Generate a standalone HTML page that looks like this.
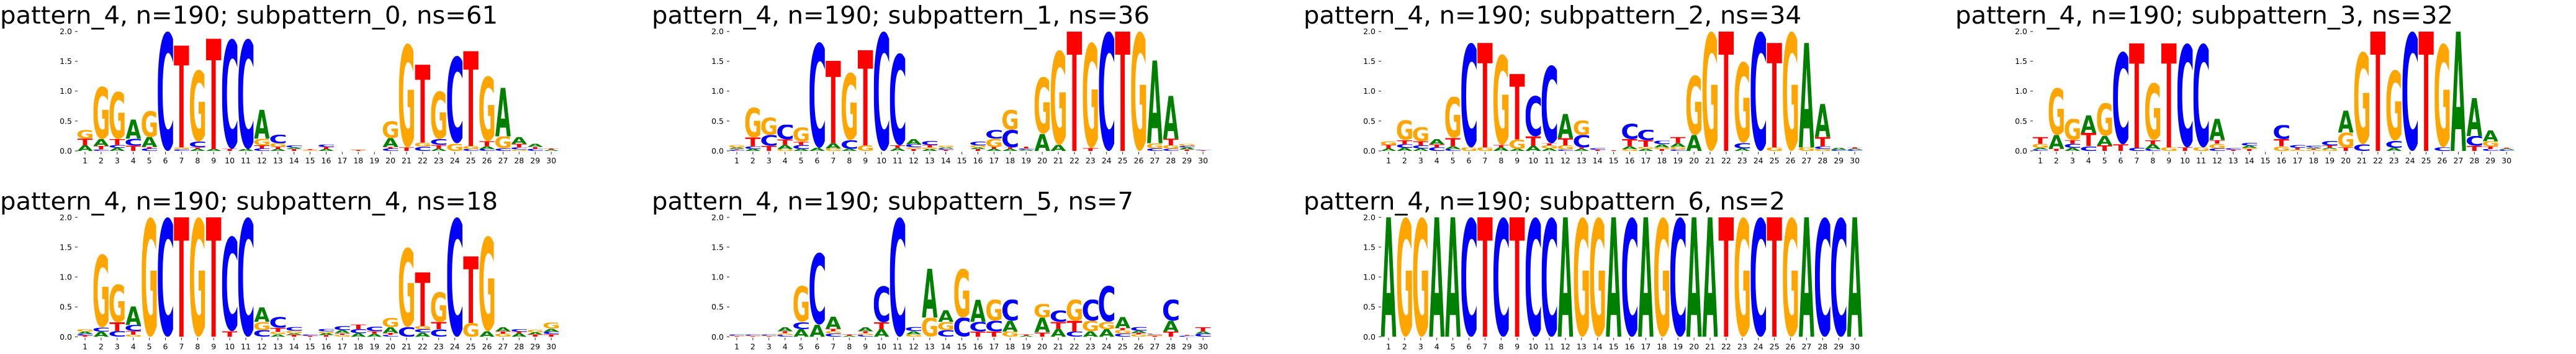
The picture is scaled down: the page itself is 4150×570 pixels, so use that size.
<!DOCTYPE html>
<html><head><meta charset="utf-8"><style>
html,body{margin:0;padding:0;background:#fff;width:4150px;height:570px;overflow:hidden}
#wrap{width:4150px;height:570px;overflow:hidden;position:relative}
svg{display:block}
.ti{font-family:"DejaVu Sans","Liberation Sans",sans-serif;font-size:39px;fill:#000}
.yl{font-family:"DejaVu Sans","Liberation Sans",sans-serif;font-size:12.5px;fill:#000;text-anchor:end}
.xl{font-family:"DejaVu Sans","Liberation Sans",sans-serif;font-size:12.5px;fill:#000;text-anchor:middle}
.L text{font-family:"DejaVu Sans","Liberation Sans",sans-serif;font-weight:bold;font-size:100px}
.a{fill:#008000}.c{fill:#0000ff}.g{fill:#ffa500}.t{fill:#ff0000}
.tk{stroke:#222;stroke-width:1;fill:none}
</style></head><body><div id="wrap">
<svg width="4150" height="570" viewBox="0 0 4150 570" xmlns="http://www.w3.org/2000/svg" overflow="hidden">
<rect width="4150" height="570" fill="#fff"/>

<!-- Panel 1 -->
<g transform="translate(0 0)">
<text class="ti" x="0" y="38" textLength="802" lengthAdjust="spacingAndGlyphs">pattern_4, n=190; subpattern_0, ns=61</text>
<text class="yl" x="116" y="247.5">0.0</text><text class="yl" x="116" y="199.4">0.5</text><text class="yl" x="116" y="151.2">1.0</text><text class="yl" x="116" y="103.1">1.5</text><text class="yl" x="116" y="55.2">2.0</text>
<path class="tk" d="M121 243h4M121 194.9h4M121 146.7h4M121 98.6h4M121 50.7h4"/>
<path class="tk" d="M137 244.5v4m25.9-4v4m25.9-4v4m25.9-4v4m25.9-4v4m25.9-4v4m25.9-4v4m25.9-4v4m25.9-4v4m25.9-4v4m25.9-4v4m25.9-4v4m25.9-4v4m25.9-4v4m25.9-4v4m25.9-4v4m25.9-4v4m25.9-4v4m25.9-4v4m25.9-4v4m25.9-4v4m25.9-4v4m25.9-4v4m25.9-4v4m25.9-4v4m25.9-4v4m25.9-4v4m25.9-4v4m25.9-4v4m25.9-4v4"/>
<text class="xl" y="263"><tspan x="137">1</tspan><tspan x="162.9">2</tspan><tspan x="188.8">3</tspan><tspan x="214.7">4</tspan><tspan x="240.6">5</tspan><tspan x="266.5">6</tspan><tspan x="292.4">7</tspan><tspan x="318.3">8</tspan><tspan x="344.2">9</tspan><tspan x="370.1">10</tspan><tspan x="396">11</tspan><tspan x="421.9">12</tspan><tspan x="447.8">13</tspan><tspan x="473.7">14</tspan><tspan x="499.6">15</tspan><tspan x="525.5">16</tspan><tspan x="551.4">17</tspan><tspan x="577.3">18</tspan><tspan x="603.2">19</tspan><tspan x="629.1">20</tspan><tspan x="655">21</tspan><tspan x="680.9">22</tspan><tspan x="706.8">23</tspan><tspan x="732.7">24</tspan><tspan x="758.6">25</tspan><tspan x="784.5">26</tspan><tspan x="810.4">27</tspan><tspan x="836.3">28</tspan><tspan x="862.2">29</tspan><tspan x="888.1">30</tspan></text>
<g class="L" transform="translate(137 243) scale(25.9 96.15)">
<svg x="-.475" y="-.094" width=".95" height=".094" viewBox="1 -72.9 75.4 72.9" preserveAspectRatio="none"><text class="a">A</text></svg>
<svg x="-.475" y="-.205" width=".95" height=".111" viewBox=".5 -72.9 67.4 72.9" preserveAspectRatio="none"><text class="t">T</text></svg>
<svg x="-.475" y="-.354" width=".95" height=".149" viewBox="5.2 -74.2 70.6 75.6" preserveAspectRatio="none"><text class="g">G</text></svg>
<svg x=".525" y="-.024" width=".95" height=".024" viewBox="5.2 -74.2 60.5 75.6" preserveAspectRatio="none"><text class="c">C</text></svg>
<svg x=".525" y="-.083" width=".95" height=".059" viewBox=".5 -72.9 67.4 72.9" preserveAspectRatio="none"><text class="t">T</text></svg>
<svg x=".525" y="-.198" width=".95" height=".115" viewBox="1 -72.9 75.4 72.9" preserveAspectRatio="none"><text class="a">A</text></svg>
<svg x=".525" y="-1.081" width=".95" height=".883" viewBox="5.2 -74.2 70.6 75.6" preserveAspectRatio="none"><text class="g">G</text></svg>
<svg x="1.525" y="-.052" width=".95" height=".052" viewBox="1 -72.9 75.4 72.9" preserveAspectRatio="none"><text class="a">A</text></svg>
<svg x="1.525" y="-.1" width=".95" height=".048" viewBox="5.2 -74.2 60.5 75.6" preserveAspectRatio="none"><text class="c">C</text></svg>
<svg x="1.525" y="-.198" width=".95" height=".098" viewBox=".5 -72.9 67.4 72.9" preserveAspectRatio="none"><text class="t">T</text></svg>
<svg x="1.525" y="-.995" width=".95" height=".797" viewBox="5.2 -74.2 70.6 75.6" preserveAspectRatio="none"><text class="g">G</text></svg>
<svg x="2.525" y="-.087" width=".95" height=".087" viewBox=".5 -72.9 67.4 72.9" preserveAspectRatio="none"><text class="t">T</text></svg>
<svg x="2.525" y="-.205" width=".95" height=".118" viewBox="5.2 -74.2 60.5 75.6" preserveAspectRatio="none"><text class="c">C</text></svg>
<svg x="2.525" y="-.527" width=".95" height=".322" viewBox="1 -72.9 75.4 72.9" preserveAspectRatio="none"><text class="a">A</text></svg>
<svg x="3.525" y="-.042" width=".95" height=".042" viewBox="5.2 -74.2 60.5 75.6" preserveAspectRatio="none"><text class="c">C</text></svg>
<svg x="3.525" y="-.066" width=".95" height=".024" viewBox=".5 -72.9 67.4 72.9" preserveAspectRatio="none"><text class="t">T</text></svg>
<svg x="3.525" y="-.232" width=".95" height=".166" viewBox="1 -72.9 75.4 72.9" preserveAspectRatio="none"><text class="a">A</text></svg>
<svg x="3.525" y="-.676" width=".95" height=".444" viewBox="5.2 -74.2 70.6 75.6" preserveAspectRatio="none"><text class="g">G</text></svg>
<svg x="4.525" y="-2" width=".95" height="2" viewBox="5.2 -74.2 60.5 75.6" preserveAspectRatio="none"><text class="c">C</text></svg>
<svg x="5.525" y="-.03" width=".95" height=".03" viewBox="5.2 -74.2 60.5 75.6" preserveAspectRatio="none"><text class="c">C</text></svg>
<svg x="5.525" y="-.059" width=".95" height=".029" viewBox="5.2 -74.2 70.6 75.6" preserveAspectRatio="none"><text class="g">G</text></svg>
<svg x="5.525" y="-1.764" width=".95" height="1.705" viewBox=".5 -72.9 67.4 72.9" preserveAspectRatio="none"><text class="t">T</text></svg>
<svg x="6.525" y="-.031" width=".95" height=".031" viewBox="1 -72.9 75.4 72.9" preserveAspectRatio="none"><text class="a">A</text></svg>
<svg x="6.525" y="-.059" width=".95" height=".028" viewBox=".5 -72.9 67.4 72.9" preserveAspectRatio="none"><text class="t">T</text></svg>
<svg x="6.525" y="-.156" width=".95" height=".097" viewBox="5.2 -74.2 60.5 75.6" preserveAspectRatio="none"><text class="c">C</text></svg>
<svg x="6.525" y="-1.359" width=".95" height="1.203" viewBox="5.2 -74.2 70.6 75.6" preserveAspectRatio="none"><text class="g">G</text></svg>
<svg x="7.525" y="-.031" width=".95" height=".031" viewBox="1 -72.9 75.4 72.9" preserveAspectRatio="none"><text class="a">A</text></svg>
<svg x="7.525" y="-1.879" width=".95" height="1.848" viewBox=".5 -72.9 67.4 72.9" preserveAspectRatio="none"><text class="t">T</text></svg>
<svg x="8.525" y="-.035" width=".95" height=".035" viewBox=".5 -72.9 67.4 72.9" preserveAspectRatio="none"><text class="t">T</text></svg>
<svg x="8.525" y="-1.879" width=".95" height="1.844" viewBox="5.2 -74.2 60.5 75.6" preserveAspectRatio="none"><text class="c">C</text></svg>
<svg x="9.525" y="-.031" width=".95" height=".031" viewBox="1 -72.9 75.4 72.9" preserveAspectRatio="none"><text class="a">A</text></svg>
<svg x="9.525" y="-1.879" width=".95" height="1.848" viewBox="5.2 -74.2 60.5 75.6" preserveAspectRatio="none"><text class="c">C</text></svg>
<svg x="10.525" y="-.042" width=".95" height=".042" viewBox="5.2 -74.2 60.5 75.6" preserveAspectRatio="none"><text class="c">C</text></svg>
<svg x="10.525" y="-.094" width=".95" height=".052" viewBox=".5 -72.9 67.4 72.9" preserveAspectRatio="none"><text class="t">T</text></svg>
<svg x="10.525" y="-.205" width=".95" height=".111" viewBox="5.2 -74.2 70.6 75.6" preserveAspectRatio="none"><text class="g">G</text></svg>
<svg x="10.525" y="-.69" width=".95" height=".485" viewBox="1 -72.9 75.4 72.9" preserveAspectRatio="none"><text class="a">A</text></svg>
<svg x="11.525" y="-.031" width=".95" height=".031" viewBox="1 -72.9 75.4 72.9" preserveAspectRatio="none"><text class="a">A</text></svg>
<svg x="11.525" y="-.069" width=".95" height=".038" viewBox=".5 -72.9 67.4 72.9" preserveAspectRatio="none"><text class="t">T</text></svg>
<svg x="11.525" y="-.128" width=".95" height=".059" viewBox="5.2 -74.2 70.6 75.6" preserveAspectRatio="none"><text class="g">G</text></svg>
<svg x="11.525" y="-.274" width=".95" height=".146" viewBox="5.2 -74.2 60.5 75.6" preserveAspectRatio="none"><text class="c">C</text></svg>
<svg x="12.525" y="-.031" width=".95" height=".031" viewBox=".5 -72.9 67.4 72.9" preserveAspectRatio="none"><text class="t">T</text></svg>
<svg x="12.525" y="-.059" width=".95" height=".028" viewBox="1 -72.9 75.4 72.9" preserveAspectRatio="none"><text class="a">A</text></svg>
<svg x="12.525" y="-.094" width=".95" height=".035" viewBox="5.2 -74.2 60.5 75.6" preserveAspectRatio="none"><text class="c">C</text></svg>
<svg x="13.525" y="-.015" width=".95" height=".015" viewBox="5.2 -74.2 70.6 75.6" preserveAspectRatio="none"><text class="g">G</text></svg>
<svg x="13.525" y="-.03" width=".95" height=".015" viewBox=".5 -72.9 67.4 72.9" preserveAspectRatio="none"><text class="t">T</text></svg>
<svg x="14.525" y="-.031" width=".95" height=".031" viewBox="1 -72.9 75.4 72.9" preserveAspectRatio="none"><text class="a">A</text></svg>
<svg x="14.525" y="-.066" width=".95" height=".035" viewBox=".5 -72.9 67.4 72.9" preserveAspectRatio="none"><text class="t">T</text></svg>
<svg x="14.525" y="-.107" width=".95" height=".041" viewBox="5.2 -74.2 60.5 75.6" preserveAspectRatio="none"><text class="c">C</text></svg>
<svg x="16.525" y="-.015" width=".95" height=".015" viewBox=".5 -72.9 67.4 72.9" preserveAspectRatio="none"><text class="t">T</text></svg>
<svg x="16.525" y="-.025" width=".95" height=".01" viewBox="5.2 -74.2 70.6 75.6" preserveAspectRatio="none"><text class="g">G</text></svg>
<svg x="18.525" y="-.042" width=".95" height=".042" viewBox="5.2 -74.2 60.5 75.6" preserveAspectRatio="none"><text class="c">C</text></svg>
<svg x="18.525" y="-.066" width=".95" height=".024" viewBox=".5 -72.9 67.4 72.9" preserveAspectRatio="none"><text class="t">T</text></svg>
<svg x="18.525" y="-.215" width=".95" height=".149" viewBox="1 -72.9 75.4 72.9" preserveAspectRatio="none"><text class="a">A</text></svg>
<svg x="18.525" y="-.503" width=".95" height=".288" viewBox="5.2 -74.2 70.6 75.6" preserveAspectRatio="none"><text class="g">G</text></svg>
<svg x="19.525" y="-.059" width=".95" height=".059" viewBox=".5 -72.9 67.4 72.9" preserveAspectRatio="none"><text class="t">T</text></svg>
<svg x="19.525" y="-1.799" width=".95" height="1.74" viewBox="5.2 -74.2 70.6 75.6" preserveAspectRatio="none"><text class="g">G</text></svg>
<svg x="20.525" y="-.069" width=".95" height=".069" viewBox="5.2 -74.2 60.5 75.6" preserveAspectRatio="none"><text class="c">C</text></svg>
<svg x="20.525" y="-.139" width=".95" height=".07" viewBox="5.2 -74.2 70.6 75.6" preserveAspectRatio="none"><text class="g">G</text></svg>
<svg x="20.525" y="-1.445" width=".95" height="1.306" viewBox=".5 -72.9 67.4 72.9" preserveAspectRatio="none"><text class="t">T</text></svg>
<svg x="21.525" y="-.038" width=".95" height=".038" viewBox="1 -72.9 75.4 72.9" preserveAspectRatio="none"><text class="a">A</text></svg>
<svg x="21.525" y="-.1" width=".95" height=".062" viewBox=".5 -72.9 67.4 72.9" preserveAspectRatio="none"><text class="t">T</text></svg>
<svg x="21.525" y="-.198" width=".95" height=".098" viewBox="5.2 -74.2 60.5 75.6" preserveAspectRatio="none"><text class="c">C</text></svg>
<svg x="21.525" y="-1.002" width=".95" height=".804" viewBox="5.2 -74.2 70.6 75.6" preserveAspectRatio="none"><text class="g">G</text></svg>
<svg x="22.525" y="-.128" width=".95" height=".128" viewBox="5.2 -74.2 70.6 75.6" preserveAspectRatio="none"><text class="g">G</text></svg>
<svg x="22.525" y="-1.591" width=".95" height="1.463" viewBox="5.2 -74.2 60.5 75.6" preserveAspectRatio="none"><text class="c">C</text></svg>
<svg x="23.525" y="-.031" width=".95" height=".031" viewBox="5.2 -74.2 60.5 75.6" preserveAspectRatio="none"><text class="c">C</text></svg>
<svg x="23.525" y="-.083" width=".95" height=".052" viewBox="5.2 -74.2 70.6 75.6" preserveAspectRatio="none"><text class="g">G</text></svg>
<svg x="23.525" y="-1.671" width=".95" height="1.588" viewBox=".5 -72.9 67.4 72.9" preserveAspectRatio="none"><text class="t">T</text></svg>
<svg x="24.525" y="-.031" width=".95" height=".031" viewBox="5.2 -74.2 60.5 75.6" preserveAspectRatio="none"><text class="c">C</text></svg>
<svg x="24.525" y="-.076" width=".95" height=".045" viewBox="1 -72.9 75.4 72.9" preserveAspectRatio="none"><text class="a">A</text></svg>
<svg x="24.525" y="-.163" width=".95" height=".087" viewBox=".5 -72.9 67.4 72.9" preserveAspectRatio="none"><text class="t">T</text></svg>
<svg x="24.525" y="-1.255" width=".95" height="1.092" viewBox="5.2 -74.2 70.6 75.6" preserveAspectRatio="none"><text class="g">G</text></svg>
<svg x="25.525" y="-.042" width=".95" height=".042" viewBox="5.2 -74.2 60.5 75.6" preserveAspectRatio="none"><text class="c">C</text></svg>
<svg x="25.525" y="-.243" width=".95" height=".201" viewBox="5.2 -74.2 70.6 75.6" preserveAspectRatio="none"><text class="g">G</text></svg>
<svg x="25.525" y="-1.057" width=".95" height=".814" viewBox="1 -72.9 75.4 72.9" preserveAspectRatio="none"><text class="a">A</text></svg>
<svg x="26.525" y="-.024" width=".95" height=".024" viewBox="5.2 -74.2 70.6 75.6" preserveAspectRatio="none"><text class="g">G</text></svg>
<svg x="26.525" y="-.059" width=".95" height=".035" viewBox="5.2 -74.2 60.5 75.6" preserveAspectRatio="none"><text class="c">C</text></svg>
<svg x="26.525" y="-.121" width=".95" height=".062" viewBox=".5 -72.9 67.4 72.9" preserveAspectRatio="none"><text class="t">T</text></svg>
<svg x="26.525" y="-.232" width=".95" height=".111" viewBox="1 -72.9 75.4 72.9" preserveAspectRatio="none"><text class="a">A</text></svg>
<svg x="27.525" y="-.035" width=".95" height=".035" viewBox="5.2 -74.2 60.5 75.6" preserveAspectRatio="none"><text class="c">C</text></svg>
<svg x="27.525" y="-.066" width=".95" height=".031" viewBox=".5 -72.9 67.4 72.9" preserveAspectRatio="none"><text class="t">T</text></svg>
<svg x="27.525" y="-.121" width=".95" height=".055" viewBox="1 -72.9 75.4 72.9" preserveAspectRatio="none"><text class="a">A</text></svg>
<svg x="28.525" y="-.02" width=".95" height=".02" viewBox="1 -72.9 75.4 72.9" preserveAspectRatio="none"><text class="a">A</text></svg>
<svg x="28.525" y="-.04" width=".95" height=".02" viewBox=".5 -72.9 67.4 72.9" preserveAspectRatio="none"><text class="t">T</text></svg>
</g>
</g>

<!-- Panel 2 -->
<g transform="translate(1050 0)">
<text class="ti" x="0" y="38" textLength="802" lengthAdjust="spacingAndGlyphs">pattern_4, n=190; subpattern_1, ns=36</text>
<text class="yl" x="116" y="247.5">0.0</text><text class="yl" x="116" y="199.4">0.5</text><text class="yl" x="116" y="151.2">1.0</text><text class="yl" x="116" y="103.1">1.5</text><text class="yl" x="116" y="55.2">2.0</text>
<path class="tk" d="M121 243h4M121 194.9h4M121 146.7h4M121 98.6h4M121 50.7h4"/>
<path class="tk" d="M137 244.5v4m25.9-4v4m25.9-4v4m25.9-4v4m25.9-4v4m25.9-4v4m25.9-4v4m25.9-4v4m25.9-4v4m25.9-4v4m25.9-4v4m25.9-4v4m25.9-4v4m25.9-4v4m25.9-4v4m25.9-4v4m25.9-4v4m25.9-4v4m25.9-4v4m25.9-4v4m25.9-4v4m25.9-4v4m25.9-4v4m25.9-4v4m25.9-4v4m25.9-4v4m25.9-4v4m25.9-4v4m25.9-4v4m25.9-4v4"/>
<text class="xl" y="263"><tspan x="137">1</tspan><tspan x="162.9">2</tspan><tspan x="188.8">3</tspan><tspan x="214.7">4</tspan><tspan x="240.6">5</tspan><tspan x="266.5">6</tspan><tspan x="292.4">7</tspan><tspan x="318.3">8</tspan><tspan x="344.2">9</tspan><tspan x="370.1">10</tspan><tspan x="396">11</tspan><tspan x="421.9">12</tspan><tspan x="447.8">13</tspan><tspan x="473.7">14</tspan><tspan x="499.6">15</tspan><tspan x="525.5">16</tspan><tspan x="551.4">17</tspan><tspan x="577.3">18</tspan><tspan x="603.2">19</tspan><tspan x="629.1">20</tspan><tspan x="655">21</tspan><tspan x="680.9">22</tspan><tspan x="706.8">23</tspan><tspan x="732.7">24</tspan><tspan x="758.6">25</tspan><tspan x="784.5">26</tspan><tspan x="810.4">27</tspan><tspan x="836.3">28</tspan><tspan x="862.2">29</tspan><tspan x="888.1">30</tspan></text>
<g class="L" transform="translate(137 243) scale(25.9 96.15)">
<svg x="-.475" y="-.02" width=".95" height=".02" viewBox="5.2 -74.2 60.5 75.6" preserveAspectRatio="none"><text class="c">C</text></svg>
<svg x="-.475" y="-.035" width=".95" height=".015" viewBox=".5 -72.9 67.4 72.9" preserveAspectRatio="none"><text class="t">T</text></svg>
<svg x="-.475" y="-.059" width=".95" height=".024" viewBox="1 -72.9 75.4 72.9" preserveAspectRatio="none"><text class="a">A</text></svg>
<svg x="-.475" y="-.1" width=".95" height=".041" viewBox="5.2 -74.2 70.6 75.6" preserveAspectRatio="none"><text class="g">G</text></svg>
<svg x=".525" y="-.031" width=".95" height=".031" viewBox="1 -72.9 75.4 72.9" preserveAspectRatio="none"><text class="a">A</text></svg>
<svg x=".525" y="-.076" width=".95" height=".045" viewBox="5.2 -74.2 60.5 75.6" preserveAspectRatio="none"><text class="c">C</text></svg>
<svg x=".525" y="-.225" width=".95" height=".149" viewBox=".5 -72.9 67.4 72.9" preserveAspectRatio="none"><text class="t">T</text></svg>
<svg x=".525" y="-.728" width=".95" height=".503" viewBox="5.2 -74.2 70.6 75.6" preserveAspectRatio="none"><text class="g">G</text></svg>
<svg x="1.525" y="-.083" width=".95" height=".083" viewBox=".5 -72.9 67.4 72.9" preserveAspectRatio="none"><text class="t">T</text></svg>
<svg x="1.525" y="-.267" width=".95" height=".184" viewBox="5.2 -74.2 60.5 75.6" preserveAspectRatio="none"><text class="c">C</text></svg>
<svg x="1.525" y="-.562" width=".95" height=".295" viewBox="5.2 -74.2 70.6 75.6" preserveAspectRatio="none"><text class="g">G</text></svg>
<svg x="2.525" y="-.031" width=".95" height=".031" viewBox="5.2 -74.2 70.6 75.6" preserveAspectRatio="none"><text class="g">G</text></svg>
<svg x="2.525" y="-.1" width=".95" height=".069" viewBox="1 -72.9 75.4 72.9" preserveAspectRatio="none"><text class="a">A</text></svg>
<svg x="2.525" y="-.191" width=".95" height=".091" viewBox=".5 -72.9 67.4 72.9" preserveAspectRatio="none"><text class="t">T</text></svg>
<svg x="2.525" y="-.44" width=".95" height=".249" viewBox="5.2 -74.2 60.5 75.6" preserveAspectRatio="none"><text class="c">C</text></svg>
<svg x="3.525" y="-.031" width=".95" height=".031" viewBox="1 -72.9 75.4 72.9" preserveAspectRatio="none"><text class="a">A</text></svg>
<svg x="3.525" y="-.1" width=".95" height=".069" viewBox="5.2 -74.2 60.5 75.6" preserveAspectRatio="none"><text class="c">C</text></svg>
<svg x="3.525" y="-.156" width=".95" height=".056" viewBox=".5 -72.9 67.4 72.9" preserveAspectRatio="none"><text class="t">T</text></svg>
<svg x="3.525" y="-.395" width=".95" height=".239" viewBox="5.2 -74.2 70.6 75.6" preserveAspectRatio="none"><text class="g">G</text></svg>
<svg x="4.525" y="-.052" width=".95" height=".052" viewBox="1 -72.9 75.4 72.9" preserveAspectRatio="none"><text class="a">A</text></svg>
<svg x="4.525" y="-1.82" width=".95" height="1.768" viewBox="5.2 -74.2 60.5 75.6" preserveAspectRatio="none"><text class="c">C</text></svg>
<svg x="5.525" y="-.042" width=".95" height=".042" viewBox="5.2 -74.2 70.6 75.6" preserveAspectRatio="none"><text class="g">G</text></svg>
<svg x="5.525" y="-.128" width=".95" height=".086" viewBox="1 -72.9 75.4 72.9" preserveAspectRatio="none"><text class="a">A</text></svg>
<svg x="5.525" y="-1.508" width=".95" height="1.38" viewBox=".5 -72.9 67.4 72.9" preserveAspectRatio="none"><text class="t">T</text></svg>
<svg x="6.525" y="-.035" width=".95" height=".035" viewBox="1 -72.9 75.4 72.9" preserveAspectRatio="none"><text class="a">A</text></svg>
<svg x="6.525" y="-.18" width=".95" height=".145" viewBox="5.2 -74.2 60.5 75.6" preserveAspectRatio="none"><text class="c">C</text></svg>
<svg x="6.525" y="-1.314" width=".95" height="1.134" viewBox="5.2 -74.2 70.6 75.6" preserveAspectRatio="none"><text class="g">G</text></svg>
<svg x="7.525" y="-.094" width=".95" height=".094" viewBox="5.2 -74.2 70.6 75.6" preserveAspectRatio="none"><text class="g">G</text></svg>
<svg x="7.525" y="-1.688" width=".95" height="1.594" viewBox=".5 -72.9 67.4 72.9" preserveAspectRatio="none"><text class="t">T</text></svg>
<svg x="8.525" y="-2" width=".95" height="2" viewBox="5.2 -74.2 60.5 75.6" preserveAspectRatio="none"><text class="c">C</text></svg>
<svg x="9.525" y="-.049" width=".95" height=".049" viewBox="1 -72.9 75.4 72.9" preserveAspectRatio="none"><text class="a">A</text></svg>
<svg x="9.525" y="-.094" width=".95" height=".045" viewBox=".5 -72.9 67.4 72.9" preserveAspectRatio="none"><text class="t">T</text></svg>
<svg x="9.525" y="-1.636" width=".95" height="1.542" viewBox="5.2 -74.2 60.5 75.6" preserveAspectRatio="none"><text class="c">C</text></svg>
<svg x="10.525" y="-.031" width=".95" height=".031" viewBox=".5 -72.9 67.4 72.9" preserveAspectRatio="none"><text class="t">T</text></svg>
<svg x="10.525" y="-.059" width=".95" height=".028" viewBox="5.2 -74.2 70.6 75.6" preserveAspectRatio="none"><text class="g">G</text></svg>
<svg x="10.525" y="-.111" width=".95" height=".052" viewBox="5.2 -74.2 60.5 75.6" preserveAspectRatio="none"><text class="c">C</text></svg>
<svg x="10.525" y="-.198" width=".95" height=".087" viewBox="1 -72.9 75.4 72.9" preserveAspectRatio="none"><text class="a">A</text></svg>
<svg x="11.525" y="-.031" width=".95" height=".031" viewBox="1 -72.9 75.4 72.9" preserveAspectRatio="none"><text class="a">A</text></svg>
<svg x="11.525" y="-.059" width=".95" height=".028" viewBox="5.2 -74.2 70.6 75.6" preserveAspectRatio="none"><text class="g">G</text></svg>
<svg x="11.525" y="-.1" width=".95" height=".041" viewBox=".5 -72.9 67.4 72.9" preserveAspectRatio="none"><text class="t">T</text></svg>
<svg x="11.525" y="-.17" width=".95" height=".07" viewBox="5.2 -74.2 60.5 75.6" preserveAspectRatio="none"><text class="c">C</text></svg>
<svg x="12.525" y="-.02" width=".95" height=".02" viewBox=".5 -72.9 67.4 72.9" preserveAspectRatio="none"><text class="t">T</text></svg>
<svg x="12.525" y="-.04" width=".95" height=".02" viewBox="5.2 -74.2 60.5 75.6" preserveAspectRatio="none"><text class="c">C</text></svg>
<svg x="12.525" y="-.06" width=".95" height=".02" viewBox="1 -72.9 75.4 72.9" preserveAspectRatio="none"><text class="a">A</text></svg>
<svg x="12.525" y="-.09" width=".95" height=".03" viewBox="5.2 -74.2 70.6 75.6" preserveAspectRatio="none"><text class="g">G</text></svg>
<svg x="14.525" y="-.031" width=".95" height=".031" viewBox=".5 -72.9 67.4 72.9" preserveAspectRatio="none"><text class="t">T</text></svg>
<svg x="14.525" y="-.059" width=".95" height=".028" viewBox="1 -72.9 75.4 72.9" preserveAspectRatio="none"><text class="a">A</text></svg>
<svg x="14.525" y="-.094" width=".95" height=".035" viewBox="5.2 -74.2 70.6 75.6" preserveAspectRatio="none"><text class="g">G</text></svg>
<svg x="14.525" y="-.156" width=".95" height=".062" viewBox="5.2 -74.2 60.5 75.6" preserveAspectRatio="none"><text class="c">C</text></svg>
<svg x="15.525" y="-.035" width=".95" height=".035" viewBox="1 -72.9 75.4 72.9" preserveAspectRatio="none"><text class="a">A</text></svg>
<svg x="15.525" y="-.066" width=".95" height=".031" viewBox=".5 -72.9 67.4 72.9" preserveAspectRatio="none"><text class="t">T</text></svg>
<svg x="15.525" y="-.205" width=".95" height=".139" viewBox="5.2 -74.2 70.6 75.6" preserveAspectRatio="none"><text class="g">G</text></svg>
<svg x="15.525" y="-.354" width=".95" height=".149" viewBox="5.2 -74.2 60.5 75.6" preserveAspectRatio="none"><text class="c">C</text></svg>
<svg x="16.525" y="-.035" width=".95" height=".035" viewBox="1 -72.9 75.4 72.9" preserveAspectRatio="none"><text class="a">A</text></svg>
<svg x="16.525" y="-.059" width=".95" height=".024" viewBox=".5 -72.9 67.4 72.9" preserveAspectRatio="none"><text class="t">T</text></svg>
<svg x="16.525" y="-.354" width=".95" height=".295" viewBox="5.2 -74.2 60.5 75.6" preserveAspectRatio="none"><text class="c">C</text></svg>
<svg x="16.525" y="-.69" width=".95" height=".336" viewBox="5.2 -74.2 70.6 75.6" preserveAspectRatio="none"><text class="g">G</text></svg>
<svg x="17.525" y="-.02" width=".95" height=".02" viewBox="1 -72.9 75.4 72.9" preserveAspectRatio="none"><text class="a">A</text></svg>
<svg x="17.525" y="-.04" width=".95" height=".02" viewBox="5.2 -74.2 60.5 75.6" preserveAspectRatio="none"><text class="c">C</text></svg>
<svg x="17.525" y="-.07" width=".95" height=".03" viewBox=".5 -72.9 67.4 72.9" preserveAspectRatio="none"><text class="t">T</text></svg>
<svg x="18.525" y="-.284" width=".95" height=".284" viewBox="1 -72.9 75.4 72.9" preserveAspectRatio="none"><text class="a">A</text></svg>
<svg x="18.525" y="-1.237" width=".95" height=".953" viewBox="5.2 -74.2 70.6 75.6" preserveAspectRatio="none"><text class="g">G</text></svg>
<svg x="19.525" y="-.1" width=".95" height=".1" viewBox="1 -72.9 75.4 72.9" preserveAspectRatio="none"><text class="a">A</text></svg>
<svg x="19.525" y="-1.688" width=".95" height="1.588" viewBox="5.2 -74.2 70.6 75.6" preserveAspectRatio="none"><text class="g">G</text></svg>
<svg x="20.525" y="-2" width=".95" height="2" viewBox=".5 -72.9 67.4 72.9" preserveAspectRatio="none"><text class="t">T</text></svg>
<svg x="21.525" y="-.049" width=".95" height=".049" viewBox=".5 -72.9 67.4 72.9" preserveAspectRatio="none"><text class="t">T</text></svg>
<svg x="21.525" y="-1.82" width=".95" height="1.771" viewBox="5.2 -74.2 70.6 75.6" preserveAspectRatio="none"><text class="g">G</text></svg>
<svg x="22.525" y="-2" width=".95" height="2" viewBox="5.2 -74.2 60.5 75.6" preserveAspectRatio="none"><text class="c">C</text></svg>
<svg x="23.525" y="-2" width=".95" height="2" viewBox=".5 -72.9 67.4 72.9" preserveAspectRatio="none"><text class="t">T</text></svg>
<svg x="24.525" y="-2" width=".95" height="2" viewBox="5.2 -74.2 70.6 75.6" preserveAspectRatio="none"><text class="g">G</text></svg>
<svg x="25.525" y="-.042" width=".95" height=".042" viewBox="5.2 -74.2 60.5 75.6" preserveAspectRatio="none"><text class="c">C</text></svg>
<svg x="25.525" y="-.128" width=".95" height=".086" viewBox="5.2 -74.2 70.6 75.6" preserveAspectRatio="none"><text class="g">G</text></svg>
<svg x="25.525" y="-1.515" width=".95" height="1.387" viewBox="1 -72.9 75.4 72.9" preserveAspectRatio="none"><text class="a">A</text></svg>
<svg x="26.525" y="-.035" width=".95" height=".035" viewBox="5.2 -74.2 60.5 75.6" preserveAspectRatio="none"><text class="c">C</text></svg>
<svg x="26.525" y="-.094" width=".95" height=".059" viewBox="5.2 -74.2 70.6 75.6" preserveAspectRatio="none"><text class="g">G</text></svg>
<svg x="26.525" y="-.205" width=".95" height=".111" viewBox=".5 -72.9 67.4 72.9" preserveAspectRatio="none"><text class="t">T</text></svg>
<svg x="26.525" y="-.925" width=".95" height=".72" viewBox="1 -72.9 75.4 72.9" preserveAspectRatio="none"><text class="a">A</text></svg>
<svg x="27.525" y="-.024" width=".95" height=".024" viewBox=".5 -72.9 67.4 72.9" preserveAspectRatio="none"><text class="t">T</text></svg>
<svg x="27.525" y="-.059" width=".95" height=".035" viewBox="1 -72.9 75.4 72.9" preserveAspectRatio="none"><text class="a">A</text></svg>
<svg x="27.525" y="-.083" width=".95" height=".024" viewBox="5.2 -74.2 60.5 75.6" preserveAspectRatio="none"><text class="c">C</text></svg>
<svg x="27.525" y="-.118" width=".95" height=".035" viewBox="5.2 -74.2 70.6 75.6" preserveAspectRatio="none"><text class="g">G</text></svg>
<svg x="28.525" y="-.01" width=".95" height=".01" viewBox=".5 -72.9 67.4 72.9" preserveAspectRatio="none"><text class="t">T</text></svg>
<svg x="28.525" y="-.02" width=".95" height=".01" viewBox="5.2 -74.2 60.5 75.6" preserveAspectRatio="none"><text class="c">C</text></svg>
</g>
</g>

<!-- Panel 3 -->
<g transform="translate(2100 0)">
<text class="ti" x="0" y="38" textLength="802" lengthAdjust="spacingAndGlyphs">pattern_4, n=190; subpattern_2, ns=34</text>
<text class="yl" x="116" y="247.5">0.0</text><text class="yl" x="116" y="199.4">0.5</text><text class="yl" x="116" y="151.2">1.0</text><text class="yl" x="116" y="103.1">1.5</text><text class="yl" x="116" y="55.2">2.0</text>
<path class="tk" d="M121 243h4M121 194.9h4M121 146.7h4M121 98.6h4M121 50.7h4"/>
<path class="tk" d="M137 244.5v4m25.9-4v4m25.9-4v4m25.9-4v4m25.9-4v4m25.9-4v4m25.9-4v4m25.9-4v4m25.9-4v4m25.9-4v4m25.9-4v4m25.9-4v4m25.9-4v4m25.9-4v4m25.9-4v4m25.9-4v4m25.9-4v4m25.9-4v4m25.9-4v4m25.9-4v4m25.9-4v4m25.9-4v4m25.9-4v4m25.9-4v4m25.9-4v4m25.9-4v4m25.9-4v4m25.9-4v4m25.9-4v4m25.9-4v4"/>
<text class="xl" y="263"><tspan x="137">1</tspan><tspan x="162.9">2</tspan><tspan x="188.8">3</tspan><tspan x="214.7">4</tspan><tspan x="240.6">5</tspan><tspan x="266.5">6</tspan><tspan x="292.4">7</tspan><tspan x="318.3">8</tspan><tspan x="344.2">9</tspan><tspan x="370.1">10</tspan><tspan x="396">11</tspan><tspan x="421.9">12</tspan><tspan x="447.8">13</tspan><tspan x="473.7">14</tspan><tspan x="499.6">15</tspan><tspan x="525.5">16</tspan><tspan x="551.4">17</tspan><tspan x="577.3">18</tspan><tspan x="603.2">19</tspan><tspan x="629.1">20</tspan><tspan x="655">21</tspan><tspan x="680.9">22</tspan><tspan x="706.8">23</tspan><tspan x="732.7">24</tspan><tspan x="758.6">25</tspan><tspan x="784.5">26</tspan><tspan x="810.4">27</tspan><tspan x="836.3">28</tspan><tspan x="862.2">29</tspan><tspan x="888.1">30</tspan></text>
<g class="L" transform="translate(137 243) scale(25.9 96.15)">
<svg x="-.475" y="-.042" width=".95" height=".042" viewBox="1 -72.9 75.4 72.9" preserveAspectRatio="none"><text class="a">A</text></svg>
<svg x="-.475" y="-.1" width=".95" height=".058" viewBox=".5 -72.9 67.4 72.9" preserveAspectRatio="none"><text class="t">T</text></svg>
<svg x="-.475" y="-.163" width=".95" height=".063" viewBox="5.2 -74.2 70.6 75.6" preserveAspectRatio="none"><text class="g">G</text></svg>
<svg x=".525" y="-.052" width=".95" height=".052" viewBox="1 -72.9 75.4 72.9" preserveAspectRatio="none"><text class="a">A</text></svg>
<svg x=".525" y="-.111" width=".95" height=".059" viewBox="5.2 -74.2 60.5 75.6" preserveAspectRatio="none"><text class="c">C</text></svg>
<svg x=".525" y="-.18" width=".95" height=".069" viewBox=".5 -72.9 67.4 72.9" preserveAspectRatio="none"><text class="t">T</text></svg>
<svg x=".525" y="-.516" width=".95" height=".336" viewBox="5.2 -74.2 70.6 75.6" preserveAspectRatio="none"><text class="g">G</text></svg>
<svg x="1.525" y="-.042" width=".95" height=".042" viewBox="1 -72.9 75.4 72.9" preserveAspectRatio="none"><text class="a">A</text></svg>
<svg x="1.525" y="-.094" width=".95" height=".052" viewBox="5.2 -74.2 60.5 75.6" preserveAspectRatio="none"><text class="c">C</text></svg>
<svg x="1.525" y="-.163" width=".95" height=".069" viewBox=".5 -72.9 67.4 72.9" preserveAspectRatio="none"><text class="t">T</text></svg>
<svg x="1.525" y="-.399" width=".95" height=".236" viewBox="5.2 -74.2 70.6 75.6" preserveAspectRatio="none"><text class="g">G</text></svg>
<svg x="2.525" y="-.059" width=".95" height=".059" viewBox="5.2 -74.2 60.5 75.6" preserveAspectRatio="none"><text class="c">C</text></svg>
<svg x="2.525" y="-.111" width=".95" height=".052" viewBox=".5 -72.9 67.4 72.9" preserveAspectRatio="none"><text class="t">T</text></svg>
<svg x="2.525" y="-.198" width=".95" height=".087" viewBox="1 -72.9 75.4 72.9" preserveAspectRatio="none"><text class="a">A</text></svg>
<svg x="3.525" y="-.031" width=".95" height=".031" viewBox="5.2 -74.2 60.5 75.6" preserveAspectRatio="none"><text class="c">C</text></svg>
<svg x="3.525" y="-.076" width=".95" height=".045" viewBox="1 -72.9 75.4 72.9" preserveAspectRatio="none"><text class="a">A</text></svg>
<svg x="3.525" y="-.215" width=".95" height=".139" viewBox=".5 -72.9 67.4 72.9" preserveAspectRatio="none"><text class="t">T</text></svg>
<svg x="3.525" y="-.908" width=".95" height=".693" viewBox="5.2 -74.2 70.6 75.6" preserveAspectRatio="none"><text class="g">G</text></svg>
<svg x="4.525" y="-.059" width=".95" height=".059" viewBox="5.2 -74.2 70.6 75.6" preserveAspectRatio="none"><text class="g">G</text></svg>
<svg x="4.525" y="-1.809" width=".95" height="1.75" viewBox="5.2 -74.2 60.5 75.6" preserveAspectRatio="none"><text class="c">C</text></svg>
<svg x="5.525" y="-.059" width=".95" height=".059" viewBox="5.2 -74.2 70.6 75.6" preserveAspectRatio="none"><text class="g">G</text></svg>
<svg x="5.525" y="-1.809" width=".95" height="1.75" viewBox=".5 -72.9 67.4 72.9" preserveAspectRatio="none"><text class="t">T</text></svg>
<svg x="6.525" y="-.059" width=".95" height=".059" viewBox="1 -72.9 75.4 72.9" preserveAspectRatio="none"><text class="a">A</text></svg>
<svg x="6.525" y="-.1" width=".95" height=".041" viewBox=".5 -72.9 67.4 72.9" preserveAspectRatio="none"><text class="t">T</text></svg>
<svg x="6.525" y="-1.619" width=".95" height="1.519" viewBox="5.2 -74.2 70.6 75.6" preserveAspectRatio="none"><text class="g">G</text></svg>
<svg x="7.525" y="-.035" width=".95" height=".035" viewBox="1 -72.9 75.4 72.9" preserveAspectRatio="none"><text class="a">A</text></svg>
<svg x="7.525" y="-.191" width=".95" height=".156" viewBox="5.2 -74.2 70.6 75.6" preserveAspectRatio="none"><text class="g">G</text></svg>
<svg x="7.525" y="-1.289" width=".95" height="1.098" viewBox=".5 -72.9 67.4 72.9" preserveAspectRatio="none"><text class="t">T</text></svg>
<svg x="8.525" y="-.083" width=".95" height=".083" viewBox="1 -72.9 75.4 72.9" preserveAspectRatio="none"><text class="a">A</text></svg>
<svg x="8.525" y="-.243" width=".95" height=".16" viewBox=".5 -72.9 67.4 72.9" preserveAspectRatio="none"><text class="t">T</text></svg>
<svg x="8.525" y="-.925" width=".95" height=".682" viewBox="5.2 -74.2 60.5 75.6" preserveAspectRatio="none"><text class="c">C</text></svg>
<svg x="9.525" y="-.042" width=".95" height=".042" viewBox="1 -72.9 75.4 72.9" preserveAspectRatio="none"><text class="a">A</text></svg>
<svg x="9.525" y="-.094" width=".95" height=".052" viewBox="5.2 -74.2 70.6 75.6" preserveAspectRatio="none"><text class="g">G</text></svg>
<svg x="9.525" y="-.128" width=".95" height=".034" viewBox=".5 -72.9 67.4 72.9" preserveAspectRatio="none"><text class="t">T</text></svg>
<svg x="9.525" y="-1.435" width=".95" height="1.307" viewBox="5.2 -74.2 60.5 75.6" preserveAspectRatio="none"><text class="c">C</text></svg>
<svg x="10.525" y="-.024" width=".95" height=".024" viewBox="5.2 -74.2 60.5 75.6" preserveAspectRatio="none"><text class="c">C</text></svg>
<svg x="10.525" y="-.094" width=".95" height=".07" viewBox="5.2 -74.2 70.6 75.6" preserveAspectRatio="none"><text class="g">G</text></svg>
<svg x="10.525" y="-.215" width=".95" height=".121" viewBox=".5 -72.9 67.4 72.9" preserveAspectRatio="none"><text class="t">T</text></svg>
<svg x="10.525" y="-.62" width=".95" height=".405" viewBox="1 -72.9 75.4 72.9" preserveAspectRatio="none"><text class="a">A</text></svg>
<svg x="11.525" y="-.035" width=".95" height=".035" viewBox="1 -72.9 75.4 72.9" preserveAspectRatio="none"><text class="a">A</text></svg>
<svg x="11.525" y="-.059" width=".95" height=".024" viewBox=".5 -72.9 67.4 72.9" preserveAspectRatio="none"><text class="t">T</text></svg>
<svg x="11.525" y="-.267" width=".95" height=".208" viewBox="5.2 -74.2 60.5 75.6" preserveAspectRatio="none"><text class="c">C</text></svg>
<svg x="11.525" y="-.51" width=".95" height=".243" viewBox="5.2 -74.2 70.6 75.6" preserveAspectRatio="none"><text class="g">G</text></svg>
<svg x="12.525" y="-.02" width=".95" height=".02" viewBox=".5 -72.9 67.4 72.9" preserveAspectRatio="none"><text class="t">T</text></svg>
<svg x="12.525" y="-.05" width=".95" height=".03" viewBox="5.2 -74.2 60.5 75.6" preserveAspectRatio="none"><text class="c">C</text></svg>
<svg x="13.525" y="-.01" width=".95" height=".01" viewBox=".5 -72.9 67.4 72.9" preserveAspectRatio="none"><text class="t">T</text></svg>
<svg x="14.525" y="-.031" width=".95" height=".031" viewBox="5.2 -74.2 70.6 75.6" preserveAspectRatio="none"><text class="g">G</text></svg>
<svg x="14.525" y="-.076" width=".95" height=".045" viewBox="1 -72.9 75.4 72.9" preserveAspectRatio="none"><text class="a">A</text></svg>
<svg x="14.525" y="-.198" width=".95" height=".122" viewBox=".5 -72.9 67.4 72.9" preserveAspectRatio="none"><text class="t">T</text></svg>
<svg x="14.525" y="-.458" width=".95" height=".26" viewBox="5.2 -74.2 60.5 75.6" preserveAspectRatio="none"><text class="c">C</text></svg>
<svg x="15.525" y="-.035" width=".95" height=".035" viewBox="1 -72.9 75.4 72.9" preserveAspectRatio="none"><text class="a">A</text></svg>
<svg x="15.525" y="-.066" width=".95" height=".031" viewBox="5.2 -74.2 70.6 75.6" preserveAspectRatio="none"><text class="g">G</text></svg>
<svg x="15.525" y="-.18" width=".95" height=".114" viewBox=".5 -72.9 67.4 72.9" preserveAspectRatio="none"><text class="t">T</text></svg>
<svg x="15.525" y="-.354" width=".95" height=".174" viewBox="5.2 -74.2 60.5 75.6" preserveAspectRatio="none"><text class="c">C</text></svg>
<svg x="16.525" y="-.031" width=".95" height=".031" viewBox=".5 -72.9 67.4 72.9" preserveAspectRatio="none"><text class="t">T</text></svg>
<svg x="16.525" y="-.059" width=".95" height=".028" viewBox="5.2 -74.2 70.6 75.6" preserveAspectRatio="none"><text class="g">G</text></svg>
<svg x="16.525" y="-.111" width=".95" height=".052" viewBox="1 -72.9 75.4 72.9" preserveAspectRatio="none"><text class="a">A</text></svg>
<svg x="16.525" y="-.17" width=".95" height=".059" viewBox="5.2 -74.2 60.5 75.6" preserveAspectRatio="none"><text class="c">C</text></svg>
<svg x="17.525" y="-.024" width=".95" height=".024" viewBox="5.2 -74.2 60.5 75.6" preserveAspectRatio="none"><text class="c">C</text></svg>
<svg x="17.525" y="-.066" width=".95" height=".042" viewBox="5.2 -74.2 70.6 75.6" preserveAspectRatio="none"><text class="g">G</text></svg>
<svg x="17.525" y="-.128" width=".95" height=".062" viewBox="1 -72.9 75.4 72.9" preserveAspectRatio="none"><text class="a">A</text></svg>
<svg x="17.525" y="-.232" width=".95" height=".104" viewBox=".5 -72.9 67.4 72.9" preserveAspectRatio="none"><text class="t">T</text></svg>
<svg x="18.525" y="-.267" width=".95" height=".267" viewBox="1 -72.9 75.4 72.9" preserveAspectRatio="none"><text class="a">A</text></svg>
<svg x="18.525" y="-1.272" width=".95" height="1.005" viewBox="5.2 -74.2 70.6 75.6" preserveAspectRatio="none"><text class="g">G</text></svg>
<svg x="19.525" y="-2" width=".95" height="2" viewBox="5.2 -74.2 70.6 75.6" preserveAspectRatio="none"><text class="g">G</text></svg>
<svg x="20.525" y="-2" width=".95" height="2" viewBox=".5 -72.9 67.4 72.9" preserveAspectRatio="none"><text class="t">T</text></svg>
<svg x="21.525" y="-.042" width=".95" height=".042" viewBox="1 -72.9 75.4 72.9" preserveAspectRatio="none"><text class="a">A</text></svg>
<svg x="21.525" y="-.135" width=".95" height=".093" viewBox="5.2 -74.2 60.5 75.6" preserveAspectRatio="none"><text class="c">C</text></svg>
<svg x="21.525" y="-1.497" width=".95" height="1.362" viewBox="5.2 -74.2 70.6 75.6" preserveAspectRatio="none"><text class="g">G</text></svg>
<svg x="22.525" y="-2" width=".95" height="2" viewBox="5.2 -74.2 60.5 75.6" preserveAspectRatio="none"><text class="c">C</text></svg>
<svg x="23.525" y="-.059" width=".95" height=".059" viewBox="5.2 -74.2 70.6 75.6" preserveAspectRatio="none"><text class="g">G</text></svg>
<svg x="23.525" y="-1.809" width=".95" height="1.75" viewBox=".5 -72.9 67.4 72.9" preserveAspectRatio="none"><text class="t">T</text></svg>
<svg x="24.525" y="-2" width=".95" height="2" viewBox="5.2 -74.2 70.6 75.6" preserveAspectRatio="none"><text class="g">G</text></svg>
<svg x="25.525" y="-.059" width=".95" height=".059" viewBox="5.2 -74.2 70.6 75.6" preserveAspectRatio="none"><text class="g">G</text></svg>
<svg x="25.525" y="-1.809" width=".95" height="1.75" viewBox="1 -72.9 75.4 72.9" preserveAspectRatio="none"><text class="a">A</text></svg>
<svg x="26.525" y="-.031" width=".95" height=".031" viewBox="5.2 -74.2 70.6 75.6" preserveAspectRatio="none"><text class="g">G</text></svg>
<svg x="26.525" y="-.076" width=".95" height=".045" viewBox="5.2 -74.2 60.5 75.6" preserveAspectRatio="none"><text class="c">C</text></svg>
<svg x="26.525" y="-.232" width=".95" height=".156" viewBox=".5 -72.9 67.4 72.9" preserveAspectRatio="none"><text class="t">T</text></svg>
<svg x="26.525" y="-.787" width=".95" height=".555" viewBox="1 -72.9 75.4 72.9" preserveAspectRatio="none"><text class="a">A</text></svg>
<svg x="27.525" y="-.02" width=".95" height=".02" viewBox="5.2 -74.2 60.5 75.6" preserveAspectRatio="none"><text class="c">C</text></svg>
<svg x="27.525" y="-.05" width=".95" height=".03" viewBox="1 -72.9 75.4 72.9" preserveAspectRatio="none"><text class="a">A</text></svg>
<svg x="28.525" y="-.02" width=".95" height=".02" viewBox="5.2 -74.2 60.5 75.6" preserveAspectRatio="none"><text class="c">C</text></svg>
<svg x="28.525" y="-.04" width=".95" height=".02" viewBox="1 -72.9 75.4 72.9" preserveAspectRatio="none"><text class="a">A</text></svg>
<svg x="28.525" y="-.06" width=".95" height=".02" viewBox=".5 -72.9 67.4 72.9" preserveAspectRatio="none"><text class="t">T</text></svg>
</g>
</g>

<!-- Panel 4 -->
<g transform="translate(3150 0)">
<text class="ti" x="0" y="38" textLength="802" lengthAdjust="spacingAndGlyphs">pattern_4, n=190; subpattern_3, ns=32</text>
<text class="yl" x="116" y="247.5">0.0</text><text class="yl" x="116" y="199.4">0.5</text><text class="yl" x="116" y="151.2">1.0</text><text class="yl" x="116" y="103.1">1.5</text><text class="yl" x="116" y="55.2">2.0</text>
<path class="tk" d="M121 243h4M121 194.9h4M121 146.7h4M121 98.6h4M121 50.7h4"/>
<path class="tk" d="M137 244.5v4m25.9-4v4m25.9-4v4m25.9-4v4m25.9-4v4m25.9-4v4m25.9-4v4m25.9-4v4m25.9-4v4m25.9-4v4m25.9-4v4m25.9-4v4m25.9-4v4m25.9-4v4m25.9-4v4m25.9-4v4m25.9-4v4m25.9-4v4m25.9-4v4m25.9-4v4m25.9-4v4m25.9-4v4m25.9-4v4m25.9-4v4m25.9-4v4m25.9-4v4m25.9-4v4m25.9-4v4m25.9-4v4m25.9-4v4"/>
<text class="xl" y="263"><tspan x="137">1</tspan><tspan x="162.9">2</tspan><tspan x="188.8">3</tspan><tspan x="214.7">4</tspan><tspan x="240.6">5</tspan><tspan x="266.5">6</tspan><tspan x="292.4">7</tspan><tspan x="318.3">8</tspan><tspan x="344.2">9</tspan><tspan x="370.1">10</tspan><tspan x="396">11</tspan><tspan x="421.9">12</tspan><tspan x="447.8">13</tspan><tspan x="473.7">14</tspan><tspan x="499.6">15</tspan><tspan x="525.5">16</tspan><tspan x="551.4">17</tspan><tspan x="577.3">18</tspan><tspan x="603.2">19</tspan><tspan x="629.1">20</tspan><tspan x="655">21</tspan><tspan x="680.9">22</tspan><tspan x="706.8">23</tspan><tspan x="732.7">24</tspan><tspan x="758.6">25</tspan><tspan x="784.5">26</tspan><tspan x="810.4">27</tspan><tspan x="836.3">28</tspan><tspan x="862.2">29</tspan><tspan x="888.1">30</tspan></text>
<g class="L" transform="translate(137 243) scale(25.9 96.15)">
<svg x="-.475" y="-.024" width=".95" height=".024" viewBox="5.2 -74.2 60.5 75.6" preserveAspectRatio="none"><text class="c">C</text></svg>
<svg x="-.475" y="-.052" width=".95" height=".028" viewBox="1 -72.9 75.4 72.9" preserveAspectRatio="none"><text class="a">A</text></svg>
<svg x="-.475" y="-.118" width=".95" height=".066" viewBox="5.2 -74.2 70.6 75.6" preserveAspectRatio="none"><text class="g">G</text></svg>
<svg x="-.475" y="-.232" width=".95" height=".114" viewBox=".5 -72.9 67.4 72.9" preserveAspectRatio="none"><text class="t">T</text></svg>
<svg x=".525" y="-.035" width=".95" height=".035" viewBox=".5 -72.9 67.4 72.9" preserveAspectRatio="none"><text class="t">T</text></svg>
<svg x=".525" y="-.267" width=".95" height=".232" viewBox="1 -72.9 75.4 72.9" preserveAspectRatio="none"><text class="a">A</text></svg>
<svg x=".525" y="-1.057" width=".95" height=".79" viewBox="5.2 -74.2 70.6 75.6" preserveAspectRatio="none"><text class="g">G</text></svg>
<svg x="1.525" y="-.052" width=".95" height=".052" viewBox="1 -72.9 75.4 72.9" preserveAspectRatio="none"><text class="a">A</text></svg>
<svg x="1.525" y="-.118" width=".95" height=".066" viewBox="5.2 -74.2 60.5 75.6" preserveAspectRatio="none"><text class="c">C</text></svg>
<svg x="1.525" y="-.18" width=".95" height=".062" viewBox=".5 -72.9 67.4 72.9" preserveAspectRatio="none"><text class="t">T</text></svg>
<svg x="1.525" y="-.537" width=".95" height=".357" viewBox="5.2 -74.2 70.6 75.6" preserveAspectRatio="none"><text class="g">G</text></svg>
<svg x="2.525" y="-.076" width=".95" height=".076" viewBox="5.2 -74.2 60.5 75.6" preserveAspectRatio="none"><text class="c">C</text></svg>
<svg x="2.525" y="-.302" width=".95" height=".226" viewBox=".5 -72.9 67.4 72.9" preserveAspectRatio="none"><text class="t">T</text></svg>
<svg x="2.525" y="-.596" width=".95" height=".294" viewBox="1 -72.9 75.4 72.9" preserveAspectRatio="none"><text class="a">A</text></svg>
<svg x="3.525" y="-.094" width=".95" height=".094" viewBox=".5 -72.9 67.4 72.9" preserveAspectRatio="none"><text class="t">T</text></svg>
<svg x="3.525" y="-.25" width=".95" height=".156" viewBox="1 -72.9 75.4 72.9" preserveAspectRatio="none"><text class="a">A</text></svg>
<svg x="3.525" y="-.804" width=".95" height=".554" viewBox="5.2 -74.2 70.6 75.6" preserveAspectRatio="none"><text class="g">G</text></svg>
<svg x="4.525" y="-.111" width=".95" height=".111" viewBox=".5 -72.9 67.4 72.9" preserveAspectRatio="none"><text class="t">T</text></svg>
<svg x="4.525" y="-1.664" width=".95" height="1.553" viewBox="5.2 -74.2 60.5 75.6" preserveAspectRatio="none"><text class="c">C</text></svg>
<svg x="5.525" y="-.052" width=".95" height=".052" viewBox="5.2 -74.2 60.5 75.6" preserveAspectRatio="none"><text class="c">C</text></svg>
<svg x="5.525" y="-1.802" width=".95" height="1.75" viewBox=".5 -72.9 67.4 72.9" preserveAspectRatio="none"><text class="t">T</text></svg>
<svg x="6.525" y="-.031" width=".95" height=".031" viewBox="5.2 -74.2 60.5 75.6" preserveAspectRatio="none"><text class="c">C</text></svg>
<svg x="6.525" y="-.111" width=".95" height=".08" viewBox="1 -72.9 75.4 72.9" preserveAspectRatio="none"><text class="a">A</text></svg>
<svg x="6.525" y="-.18" width=".95" height=".069" viewBox=".5 -72.9 67.4 72.9" preserveAspectRatio="none"><text class="t">T</text></svg>
<svg x="6.525" y="-1.14" width=".95" height=".96" viewBox="5.2 -74.2 70.6 75.6" preserveAspectRatio="none"><text class="g">G</text></svg>
<svg x="7.525" y="-.059" width=".95" height=".059" viewBox="5.2 -74.2 70.6 75.6" preserveAspectRatio="none"><text class="g">G</text></svg>
<svg x="7.525" y="-1.802" width=".95" height="1.743" viewBox=".5 -72.9 67.4 72.9" preserveAspectRatio="none"><text class="t">T</text></svg>
<svg x="8.525" y="-.059" width=".95" height=".059" viewBox=".5 -72.9 67.4 72.9" preserveAspectRatio="none"><text class="t">T</text></svg>
<svg x="8.525" y="-1.802" width=".95" height="1.743" viewBox="5.2 -74.2 60.5 75.6" preserveAspectRatio="none"><text class="c">C</text></svg>
<svg x="9.525" y="-.059" width=".95" height=".059" viewBox="5.2 -74.2 70.6 75.6" preserveAspectRatio="none"><text class="g">G</text></svg>
<svg x="9.525" y="-1.802" width=".95" height="1.743" viewBox="5.2 -74.2 60.5 75.6" preserveAspectRatio="none"><text class="c">C</text></svg>
<svg x="10.525" y="-.042" width=".95" height=".042" viewBox="5.2 -74.2 60.5 75.6" preserveAspectRatio="none"><text class="c">C</text></svg>
<svg x="10.525" y="-.121" width=".95" height=".079" viewBox="5.2 -74.2 70.6 75.6" preserveAspectRatio="none"><text class="g">G</text></svg>
<svg x="10.525" y="-.18" width=".95" height=".059" viewBox=".5 -72.9 67.4 72.9" preserveAspectRatio="none"><text class="t">T</text></svg>
<svg x="10.525" y="-.537" width=".95" height=".357" viewBox="1 -72.9 75.4 72.9" preserveAspectRatio="none"><text class="a">A</text></svg>
<svg x="11.525" y="-.02" width=".95" height=".02" viewBox=".5 -72.9 67.4 72.9" preserveAspectRatio="none"><text class="t">T</text></svg>
<svg x="11.525" y="-.05" width=".95" height=".03" viewBox="5.2 -74.2 60.5 75.6" preserveAspectRatio="none"><text class="c">C</text></svg>
<svg x="12.525" y="-.031" width=".95" height=".031" viewBox=".5 -72.9 67.4 72.9" preserveAspectRatio="none"><text class="t">T</text></svg>
<svg x="12.525" y="-.052" width=".95" height=".021" viewBox="5.2 -74.2 70.6 75.6" preserveAspectRatio="none"><text class="g">G</text></svg>
<svg x="12.525" y="-.087" width=".95" height=".035" viewBox="1 -72.9 75.4 72.9" preserveAspectRatio="none"><text class="a">A</text></svg>
<svg x="12.525" y="-.135" width=".95" height=".048" viewBox="5.2 -74.2 60.5 75.6" preserveAspectRatio="none"><text class="c">C</text></svg>
<svg x="14.525" y="-.076" width=".95" height=".076" viewBox="5.2 -74.2 70.6 75.6" preserveAspectRatio="none"><text class="g">G</text></svg>
<svg x="14.525" y="-.198" width=".95" height=".122" viewBox=".5 -72.9 67.4 72.9" preserveAspectRatio="none"><text class="t">T</text></svg>
<svg x="14.525" y="-.433" width=".95" height=".235" viewBox="5.2 -74.2 60.5 75.6" preserveAspectRatio="none"><text class="c">C</text></svg>
<svg x="15.525" y="-.02" width=".95" height=".02" viewBox="5.2 -74.2 70.6 75.6" preserveAspectRatio="none"><text class="g">G</text></svg>
<svg x="15.525" y="-.05" width=".95" height=".03" viewBox=".5 -72.9 67.4 72.9" preserveAspectRatio="none"><text class="t">T</text></svg>
<svg x="15.525" y="-.1" width=".95" height=".05" viewBox="5.2 -74.2 60.5 75.6" preserveAspectRatio="none"><text class="c">C</text></svg>
<svg x="16.525" y="-.02" width=".95" height=".02" viewBox="5.2 -74.2 70.6 75.6" preserveAspectRatio="none"><text class="g">G</text></svg>
<svg x="16.525" y="-.04" width=".95" height=".02" viewBox=".5 -72.9 67.4 72.9" preserveAspectRatio="none"><text class="t">T</text></svg>
<svg x="16.525" y="-.06" width=".95" height=".02" viewBox="1 -72.9 75.4 72.9" preserveAspectRatio="none"><text class="a">A</text></svg>
<svg x="16.525" y="-.09" width=".95" height=".03" viewBox="5.2 -74.2 60.5 75.6" preserveAspectRatio="none"><text class="c">C</text></svg>
<svg x="17.525" y="-.031" width=".95" height=".031" viewBox="5.2 -74.2 70.6 75.6" preserveAspectRatio="none"><text class="g">G</text></svg>
<svg x="17.525" y="-.052" width=".95" height=".021" viewBox="1 -72.9 75.4 72.9" preserveAspectRatio="none"><text class="a">A</text></svg>
<svg x="17.525" y="-.094" width=".95" height=".042" viewBox=".5 -72.9 67.4 72.9" preserveAspectRatio="none"><text class="t">T</text></svg>
<svg x="17.525" y="-.173" width=".95" height=".079" viewBox="5.2 -74.2 60.5 75.6" preserveAspectRatio="none"><text class="c">C</text></svg>
<svg x="18.525" y="-.059" width=".95" height=".059" viewBox=".5 -72.9 67.4 72.9" preserveAspectRatio="none"><text class="t">T</text></svg>
<svg x="18.525" y="-.308" width=".95" height=".249" viewBox="5.2 -74.2 70.6 75.6" preserveAspectRatio="none"><text class="g">G</text></svg>
<svg x="18.525" y="-.676" width=".95" height=".368" viewBox="1 -72.9 75.4 72.9" preserveAspectRatio="none"><text class="a">A</text></svg>
<svg x="19.525" y="-.111" width=".95" height=".111" viewBox="5.2 -74.2 60.5 75.6" preserveAspectRatio="none"><text class="c">C</text></svg>
<svg x="19.525" y="-1.664" width=".95" height="1.553" viewBox="5.2 -74.2 70.6 75.6" preserveAspectRatio="none"><text class="g">G</text></svg>
<svg x="20.525" y="-2" width=".95" height="2" viewBox=".5 -72.9 67.4 72.9" preserveAspectRatio="none"><text class="t">T</text></svg>
<svg x="21.525" y="-.052" width=".95" height=".052" viewBox="1 -72.9 75.4 72.9" preserveAspectRatio="none"><text class="a">A</text></svg>
<svg x="21.525" y="-.173" width=".95" height=".121" viewBox="5.2 -74.2 60.5 75.6" preserveAspectRatio="none"><text class="c">C</text></svg>
<svg x="21.525" y="-1.359" width=".95" height="1.186" viewBox="5.2 -74.2 70.6 75.6" preserveAspectRatio="none"><text class="g">G</text></svg>
<svg x="22.525" y="-2" width=".95" height="2" viewBox="5.2 -74.2 60.5 75.6" preserveAspectRatio="none"><text class="c">C</text></svg>
<svg x="23.525" y="-2" width=".95" height="2" viewBox=".5 -72.9 67.4 72.9" preserveAspectRatio="none"><text class="t">T</text></svg>
<svg x="24.525" y="-.059" width=".95" height=".059" viewBox="5.2 -74.2 60.5 75.6" preserveAspectRatio="none"><text class="c">C</text></svg>
<svg x="24.525" y="-1.802" width=".95" height="1.743" viewBox="5.2 -74.2 70.6 75.6" preserveAspectRatio="none"><text class="g">G</text></svg>
<svg x="25.525" y="-2" width=".95" height="2" viewBox="1 -72.9 75.4 72.9" preserveAspectRatio="none"><text class="a">A</text></svg>
<svg x="26.525" y="-.083" width=".95" height=".083" viewBox=".5 -72.9 67.4 72.9" preserveAspectRatio="none"><text class="t">T</text></svg>
<svg x="26.525" y="-.25" width=".95" height=".167" viewBox="5.2 -74.2 60.5 75.6" preserveAspectRatio="none"><text class="c">C</text></svg>
<svg x="26.525" y="-.884" width=".95" height=".634" viewBox="1 -72.9 75.4 72.9" preserveAspectRatio="none"><text class="a">A</text></svg>
<svg x="27.525" y="-.031" width=".95" height=".031" viewBox="5.2 -74.2 60.5 75.6" preserveAspectRatio="none"><text class="c">C</text></svg>
<svg x="27.525" y="-.076" width=".95" height=".045" viewBox=".5 -72.9 67.4 72.9" preserveAspectRatio="none"><text class="t">T</text></svg>
<svg x="27.525" y="-.163" width=".95" height=".087" viewBox="5.2 -74.2 70.6 75.6" preserveAspectRatio="none"><text class="g">G</text></svg>
<svg x="27.525" y="-.343" width=".95" height=".18" viewBox="1 -72.9 75.4 72.9" preserveAspectRatio="none"><text class="a">A</text></svg>
<svg x="28.525" y="-.02" width=".95" height=".02" viewBox="5.2 -74.2 60.5 75.6" preserveAspectRatio="none"><text class="c">C</text></svg>
<svg x="28.525" y="-.04" width=".95" height=".02" viewBox="1 -72.9 75.4 72.9" preserveAspectRatio="none"><text class="a">A</text></svg>
<svg x="28.525" y="-.055" width=".95" height=".015" viewBox=".5 -72.9 67.4 72.9" preserveAspectRatio="none"><text class="t">T</text></svg>
</g>
</g>

<!-- Panel 5 -->
<g transform="translate(0 299.3)">
<text class="ti" x="0" y="38" textLength="802" lengthAdjust="spacingAndGlyphs">pattern_4, n=190; subpattern_4, ns=18</text>
<text class="yl" x="116" y="247.5">0.0</text><text class="yl" x="116" y="199.4">0.5</text><text class="yl" x="116" y="151.2">1.0</text><text class="yl" x="116" y="103.1">1.5</text><text class="yl" x="116" y="55.2">2.0</text>
<path class="tk" d="M121 243h4M121 194.9h4M121 146.7h4M121 98.6h4M121 50.7h4"/>
<path class="tk" d="M137 244.5v4m25.9-4v4m25.9-4v4m25.9-4v4m25.9-4v4m25.9-4v4m25.9-4v4m25.9-4v4m25.9-4v4m25.9-4v4m25.9-4v4m25.9-4v4m25.9-4v4m25.9-4v4m25.9-4v4m25.9-4v4m25.9-4v4m25.9-4v4m25.9-4v4m25.9-4v4m25.9-4v4m25.9-4v4m25.9-4v4m25.9-4v4m25.9-4v4m25.9-4v4m25.9-4v4m25.9-4v4m25.9-4v4m25.9-4v4"/>
<text class="xl" y="263"><tspan x="137">1</tspan><tspan x="162.9">2</tspan><tspan x="188.8">3</tspan><tspan x="214.7">4</tspan><tspan x="240.6">5</tspan><tspan x="266.5">6</tspan><tspan x="292.4">7</tspan><tspan x="318.3">8</tspan><tspan x="344.2">9</tspan><tspan x="370.1">10</tspan><tspan x="396">11</tspan><tspan x="421.9">12</tspan><tspan x="447.8">13</tspan><tspan x="473.7">14</tspan><tspan x="499.6">15</tspan><tspan x="525.5">16</tspan><tspan x="551.4">17</tspan><tspan x="577.3">18</tspan><tspan x="603.2">19</tspan><tspan x="629.1">20</tspan><tspan x="655">21</tspan><tspan x="680.9">22</tspan><tspan x="706.8">23</tspan><tspan x="732.7">24</tspan><tspan x="758.6">25</tspan><tspan x="784.5">26</tspan><tspan x="810.4">27</tspan><tspan x="836.3">28</tspan><tspan x="862.2">29</tspan><tspan x="888.1">30</tspan></text>
<g class="L" transform="translate(137 243) scale(25.9 96.15)">
<svg x="-.475" y="-.024" width=".95" height=".024" viewBox=".5 -72.9 67.4 72.9" preserveAspectRatio="none"><text class="t">T</text></svg>
<svg x="-.475" y="-.052" width=".95" height=".028" viewBox="5.2 -74.2 60.5 75.6" preserveAspectRatio="none"><text class="c">C</text></svg>
<svg x="-.475" y="-.087" width=".95" height=".035" viewBox="1 -72.9 75.4 72.9" preserveAspectRatio="none"><text class="a">A</text></svg>
<svg x="-.475" y="-.128" width=".95" height=".041" viewBox="5.2 -74.2 70.6 75.6" preserveAspectRatio="none"><text class="g">G</text></svg>
<svg x=".525" y="-.087" width=".95" height=".087" viewBox="1 -72.9 75.4 72.9" preserveAspectRatio="none"><text class="a">A</text></svg>
<svg x=".525" y="-.156" width=".95" height=".069" viewBox="5.2 -74.2 60.5 75.6" preserveAspectRatio="none"><text class="c">C</text></svg>
<svg x=".525" y="-1.386" width=".95" height="1.23" viewBox="5.2 -74.2 70.6 75.6" preserveAspectRatio="none"><text class="g">G</text></svg>
<svg x="1.525" y="-.094" width=".95" height=".094" viewBox="5.2 -74.2 60.5 75.6" preserveAspectRatio="none"><text class="c">C</text></svg>
<svg x="1.525" y="-.243" width=".95" height=".149" viewBox=".5 -72.9 67.4 72.9" preserveAspectRatio="none"><text class="t">T</text></svg>
<svg x="1.525" y="-.88" width=".95" height=".637" viewBox="5.2 -74.2 70.6 75.6" preserveAspectRatio="none"><text class="g">G</text></svg>
<svg x="2.525" y="-.035" width=".95" height=".035" viewBox="5.2 -74.2 70.6 75.6" preserveAspectRatio="none"><text class="g">G</text></svg>
<svg x="2.525" y="-.094" width=".95" height=".059" viewBox=".5 -72.9 67.4 72.9" preserveAspectRatio="none"><text class="t">T</text></svg>
<svg x="2.525" y="-.198" width=".95" height=".104" viewBox="5.2 -74.2 60.5 75.6" preserveAspectRatio="none"><text class="c">C</text></svg>
<svg x="2.525" y="-.51" width=".95" height=".312" viewBox="1 -72.9 75.4 72.9" preserveAspectRatio="none"><text class="a">A</text></svg>
<svg x="3.525" y="-2" width=".95" height="2" viewBox="5.2 -74.2 70.6 75.6" preserveAspectRatio="none"><text class="g">G</text></svg>
<svg x="4.525" y="-2" width=".95" height="2" viewBox="5.2 -74.2 60.5 75.6" preserveAspectRatio="none"><text class="c">C</text></svg>
<svg x="5.525" y="-2" width=".95" height="2" viewBox=".5 -72.9 67.4 72.9" preserveAspectRatio="none"><text class="t">T</text></svg>
<svg x="6.525" y="-2" width=".95" height="2" viewBox="5.2 -74.2 70.6 75.6" preserveAspectRatio="none"><text class="g">G</text></svg>
<svg x="7.525" y="-2" width=".95" height="2" viewBox=".5 -72.9 67.4 72.9" preserveAspectRatio="none"><text class="t">T</text></svg>
<svg x="8.525" y="-.094" width=".95" height=".094" viewBox=".5 -72.9 67.4 72.9" preserveAspectRatio="none"><text class="t">T</text></svg>
<svg x="8.525" y="-1.688" width=".95" height="1.594" viewBox="5.2 -74.2 60.5 75.6" preserveAspectRatio="none"><text class="c">C</text></svg>
<svg x="9.525" y="-2" width=".95" height="2" viewBox="5.2 -74.2 60.5 75.6" preserveAspectRatio="none"><text class="c">C</text></svg>
<svg x="10.525" y="-.111" width=".95" height=".111" viewBox="5.2 -74.2 60.5 75.6" preserveAspectRatio="none"><text class="c">C</text></svg>
<svg x="10.525" y="-.25" width=".95" height=".139" viewBox="5.2 -74.2 70.6 75.6" preserveAspectRatio="none"><text class="g">G</text></svg>
<svg x="10.525" y="-.492" width=".95" height=".242" viewBox="1 -72.9 75.4 72.9" preserveAspectRatio="none"><text class="a">A</text></svg>
<svg x="11.525" y="-.042" width=".95" height=".042" viewBox="1 -72.9 75.4 72.9" preserveAspectRatio="none"><text class="a">A</text></svg>
<svg x="11.525" y="-.083" width=".95" height=".041" viewBox="5.2 -74.2 70.6 75.6" preserveAspectRatio="none"><text class="g">G</text></svg>
<svg x="11.525" y="-.153" width=".95" height=".07" viewBox=".5 -72.9 67.4 72.9" preserveAspectRatio="none"><text class="t">T</text></svg>
<svg x="11.525" y="-.336" width=".95" height=".183" viewBox="5.2 -74.2 60.5 75.6" preserveAspectRatio="none"><text class="c">C</text></svg>
<svg x="12.525" y="-.035" width=".95" height=".035" viewBox=".5 -72.9 67.4 72.9" preserveAspectRatio="none"><text class="t">T</text></svg>
<svg x="12.525" y="-.059" width=".95" height=".024" viewBox="1 -72.9 75.4 72.9" preserveAspectRatio="none"><text class="a">A</text></svg>
<svg x="12.525" y="-.1" width=".95" height=".041" viewBox="5.2 -74.2 70.6 75.6" preserveAspectRatio="none"><text class="g">G</text></svg>
<svg x="12.525" y="-.163" width=".95" height=".063" viewBox="5.2 -74.2 60.5 75.6" preserveAspectRatio="none"><text class="c">C</text></svg>
<svg x="13.525" y="-.02" width=".95" height=".02" viewBox=".5 -72.9 67.4 72.9" preserveAspectRatio="none"><text class="t">T</text></svg>
<svg x="13.525" y="-.04" width=".95" height=".02" viewBox="5.2 -74.2 60.5 75.6" preserveAspectRatio="none"><text class="c">C</text></svg>
<svg x="14.525" y="-.03" width=".95" height=".03" viewBox=".5 -72.9 67.4 72.9" preserveAspectRatio="none"><text class="t">T</text></svg>
<svg x="14.525" y="-.06" width=".95" height=".03" viewBox="1 -72.9 75.4 72.9" preserveAspectRatio="none"><text class="a">A</text></svg>
<svg x="14.525" y="-.09" width=".95" height=".03" viewBox="5.2 -74.2 70.6 75.6" preserveAspectRatio="none"><text class="g">G</text></svg>
<svg x="14.525" y="-.13" width=".95" height=".04" viewBox="5.2 -74.2 60.5 75.6" preserveAspectRatio="none"><text class="c">C</text></svg>
<svg x="15.525" y="-.031" width=".95" height=".031" viewBox="5.2 -74.2 70.6 75.6" preserveAspectRatio="none"><text class="g">G</text></svg>
<svg x="15.525" y="-.059" width=".95" height=".028" viewBox=".5 -72.9 67.4 72.9" preserveAspectRatio="none"><text class="t">T</text></svg>
<svg x="15.525" y="-.111" width=".95" height=".052" viewBox="1 -72.9 75.4 72.9" preserveAspectRatio="none"><text class="a">A</text></svg>
<svg x="15.525" y="-.18" width=".95" height=".069" viewBox="5.2 -74.2 60.5 75.6" preserveAspectRatio="none"><text class="c">C</text></svg>
<svg x="16.525" y="-.059" width=".95" height=".059" viewBox="1 -72.9 75.4 72.9" preserveAspectRatio="none"><text class="a">A</text></svg>
<svg x="16.525" y="-.128" width=".95" height=".069" viewBox="5.2 -74.2 60.5 75.6" preserveAspectRatio="none"><text class="c">C</text></svg>
<svg x="16.525" y="-.205" width=".95" height=".077" viewBox=".5 -72.9 67.4 72.9" preserveAspectRatio="none"><text class="t">T</text></svg>
<svg x="17.525" y="-.052" width=".95" height=".052" viewBox="1 -72.9 75.4 72.9" preserveAspectRatio="none"><text class="a">A</text></svg>
<svg x="17.525" y="-.094" width=".95" height=".042" viewBox=".5 -72.9 67.4 72.9" preserveAspectRatio="none"><text class="t">T</text></svg>
<svg x="17.525" y="-.17" width=".95" height=".076" viewBox="5.2 -74.2 60.5 75.6" preserveAspectRatio="none"><text class="c">C</text></svg>
<svg x="18.525" y="-.031" width=".95" height=".031" viewBox="5.2 -74.2 60.5 75.6" preserveAspectRatio="none"><text class="c">C</text></svg>
<svg x="18.525" y="-.066" width=".95" height=".035" viewBox=".5 -72.9 67.4 72.9" preserveAspectRatio="none"><text class="t">T</text></svg>
<svg x="18.525" y="-.163" width=".95" height=".097" viewBox="1 -72.9 75.4 72.9" preserveAspectRatio="none"><text class="a">A</text></svg>
<svg x="18.525" y="-.319" width=".95" height=".156" viewBox="5.2 -74.2 70.6 75.6" preserveAspectRatio="none"><text class="g">G</text></svg>
<svg x="19.525" y="-.163" width=".95" height=".163" viewBox="5.2 -74.2 60.5 75.6" preserveAspectRatio="none"><text class="c">C</text></svg>
<svg x="19.525" y="-1.497" width=".95" height="1.334" viewBox="5.2 -74.2 70.6 75.6" preserveAspectRatio="none"><text class="g">G</text></svg>
<svg x="20.525" y="-.076" width=".95" height=".076" viewBox="1 -72.9 75.4 72.9" preserveAspectRatio="none"><text class="a">A</text></svg>
<svg x="20.525" y="-.128" width=".95" height=".052" viewBox="5.2 -74.2 60.5 75.6" preserveAspectRatio="none"><text class="c">C</text></svg>
<svg x="20.525" y="-.18" width=".95" height=".052" viewBox="5.2 -74.2 70.6 75.6" preserveAspectRatio="none"><text class="g">G</text></svg>
<svg x="20.525" y="-1.081" width=".95" height=".901" viewBox=".5 -72.9 67.4 72.9" preserveAspectRatio="none"><text class="t">T</text></svg>
<svg x="21.525" y="-.128" width=".95" height=".128" viewBox="5.2 -74.2 60.5 75.6" preserveAspectRatio="none"><text class="c">C</text></svg>
<svg x="21.525" y="-.25" width=".95" height=".122" viewBox=".5 -72.9 67.4 72.9" preserveAspectRatio="none"><text class="t">T</text></svg>
<svg x="21.525" y="-.752" width=".95" height=".502" viewBox="5.2 -74.2 70.6 75.6" preserveAspectRatio="none"><text class="g">G</text></svg>
<svg x="22.525" y="-2" width=".95" height="2" viewBox="5.2 -74.2 60.5 75.6" preserveAspectRatio="none"><text class="c">C</text></svg>
<svg x="23.525" y="-.232" width=".95" height=".232" viewBox="5.2 -74.2 70.6 75.6" preserveAspectRatio="none"><text class="g">G</text></svg>
<svg x="23.525" y="-1.348" width=".95" height="1.116" viewBox=".5 -72.9 67.4 72.9" preserveAspectRatio="none"><text class="t">T</text></svg>
<svg x="24.525" y="-.094" width=".95" height=".094" viewBox="1 -72.9 75.4 72.9" preserveAspectRatio="none"><text class="a">A</text></svg>
<svg x="24.525" y="-1.688" width=".95" height="1.594" viewBox="5.2 -74.2 70.6 75.6" preserveAspectRatio="none"><text class="g">G</text></svg>
<svg x="25.525" y="-.052" width=".95" height=".052" viewBox="5.2 -74.2 70.6 75.6" preserveAspectRatio="none"><text class="g">G</text></svg>
<svg x="25.525" y="-.094" width=".95" height=".042" viewBox=".5 -72.9 67.4 72.9" preserveAspectRatio="none"><text class="t">T</text></svg>
<svg x="25.525" y="-.163" width=".95" height=".069" viewBox="1 -72.9 75.4 72.9" preserveAspectRatio="none"><text class="a">A</text></svg>
<svg x="26.525" y="-.059" width=".95" height=".059" viewBox="1 -72.9 75.4 72.9" preserveAspectRatio="none"><text class="a">A</text></svg>
<svg x="26.525" y="-.087" width=".95" height=".028" viewBox=".5 -72.9 67.4 72.9" preserveAspectRatio="none"><text class="t">T</text></svg>
<svg x="26.525" y="-.128" width=".95" height=".041" viewBox="5.2 -74.2 60.5 75.6" preserveAspectRatio="none"><text class="c">C</text></svg>
<svg x="27.525" y="-.042" width=".95" height=".042" viewBox=".5 -72.9 67.4 72.9" preserveAspectRatio="none"><text class="t">T</text></svg>
<svg x="27.525" y="-.076" width=".95" height=".034" viewBox="1 -72.9 75.4 72.9" preserveAspectRatio="none"><text class="a">A</text></svg>
<svg x="27.525" y="-.118" width=".95" height=".042" viewBox="5.2 -74.2 70.6 75.6" preserveAspectRatio="none"><text class="g">G</text></svg>
<svg x="28.525" y="-.042" width=".95" height=".042" viewBox=".5 -72.9 67.4 72.9" preserveAspectRatio="none"><text class="t">T</text></svg>
<svg x="28.525" y="-.087" width=".95" height=".045" viewBox="5.2 -74.2 60.5 75.6" preserveAspectRatio="none"><text class="c">C</text></svg>
<svg x="28.525" y="-.135" width=".95" height=".048" viewBox="1 -72.9 75.4 72.9" preserveAspectRatio="none"><text class="a">A</text></svg>
<svg x="28.525" y="-.239" width=".95" height=".104" viewBox="5.2 -74.2 70.6 75.6" preserveAspectRatio="none"><text class="g">G</text></svg>
</g>
</g>

<!-- Panel 6 -->
<g transform="translate(1050 299.3)">
<text class="ti" x="0" y="38" textLength="776" lengthAdjust="spacingAndGlyphs">pattern_4, n=190; subpattern_5, ns=7</text>
<text class="yl" x="116" y="247.5">0.0</text><text class="yl" x="116" y="199.4">0.5</text><text class="yl" x="116" y="151.2">1.0</text><text class="yl" x="116" y="103.1">1.5</text><text class="yl" x="116" y="55.2">2.0</text>
<path class="tk" d="M121 243h4M121 194.9h4M121 146.7h4M121 98.6h4M121 50.7h4"/>
<path class="tk" d="M137 244.5v4m25.9-4v4m25.9-4v4m25.9-4v4m25.9-4v4m25.9-4v4m25.9-4v4m25.9-4v4m25.9-4v4m25.9-4v4m25.9-4v4m25.9-4v4m25.9-4v4m25.9-4v4m25.9-4v4m25.9-4v4m25.9-4v4m25.9-4v4m25.9-4v4m25.9-4v4m25.9-4v4m25.9-4v4m25.9-4v4m25.9-4v4m25.9-4v4m25.9-4v4m25.9-4v4m25.9-4v4m25.9-4v4m25.9-4v4"/>
<text class="xl" y="263"><tspan x="137">1</tspan><tspan x="162.9">2</tspan><tspan x="188.8">3</tspan><tspan x="214.7">4</tspan><tspan x="240.6">5</tspan><tspan x="266.5">6</tspan><tspan x="292.4">7</tspan><tspan x="318.3">8</tspan><tspan x="344.2">9</tspan><tspan x="370.1">10</tspan><tspan x="396">11</tspan><tspan x="421.9">12</tspan><tspan x="447.8">13</tspan><tspan x="473.7">14</tspan><tspan x="499.6">15</tspan><tspan x="525.5">16</tspan><tspan x="551.4">17</tspan><tspan x="577.3">18</tspan><tspan x="603.2">19</tspan><tspan x="629.1">20</tspan><tspan x="655">21</tspan><tspan x="680.9">22</tspan><tspan x="706.8">23</tspan><tspan x="732.7">24</tspan><tspan x="758.6">25</tspan><tspan x="784.5">26</tspan><tspan x="810.4">27</tspan><tspan x="836.3">28</tspan><tspan x="862.2">29</tspan><tspan x="888.1">30</tspan></text>
<g class="L" transform="translate(137 243) scale(25.9 96.15)">
<svg x="-.475" y="-.01" width=".95" height=".01" viewBox=".5 -72.9 67.4 72.9" preserveAspectRatio="none"><text class="t">T</text></svg>
<svg x="-.475" y="-.02" width=".95" height=".01" viewBox="5.2 -74.2 70.6 75.6" preserveAspectRatio="none"><text class="g">G</text></svg>
<svg x="-.475" y="-.04" width=".95" height=".02" viewBox="5.2 -74.2 60.5 75.6" preserveAspectRatio="none"><text class="c">C</text></svg>
<svg x=".525" y="-.01" width=".95" height=".01" viewBox=".5 -72.9 67.4 72.9" preserveAspectRatio="none"><text class="t">T</text></svg>
<svg x=".525" y="-.02" width=".95" height=".01" viewBox="5.2 -74.2 70.6 75.6" preserveAspectRatio="none"><text class="g">G</text></svg>
<svg x=".525" y="-.04" width=".95" height=".02" viewBox="5.2 -74.2 60.5 75.6" preserveAspectRatio="none"><text class="c">C</text></svg>
<svg x="1.525" y="-.01" width=".95" height=".01" viewBox=".5 -72.9 67.4 72.9" preserveAspectRatio="none"><text class="t">T</text></svg>
<svg x="1.525" y="-.02" width=".95" height=".01" viewBox="5.2 -74.2 70.6 75.6" preserveAspectRatio="none"><text class="g">G</text></svg>
<svg x="1.525" y="-.04" width=".95" height=".02" viewBox="5.2 -74.2 60.5 75.6" preserveAspectRatio="none"><text class="c">C</text></svg>
<svg x="2.525" y="-.031" width=".95" height=".031" viewBox="5.2 -74.2 60.5 75.6" preserveAspectRatio="none"><text class="c">C</text></svg>
<svg x="2.525" y="-.059" width=".95" height=".028" viewBox="5.2 -74.2 70.6 75.6" preserveAspectRatio="none"><text class="g">G</text></svg>
<svg x="2.525" y="-.094" width=".95" height=".035" viewBox=".5 -72.9 67.4 72.9" preserveAspectRatio="none"><text class="t">T</text></svg>
<svg x="2.525" y="-.163" width=".95" height=".069" viewBox="1 -72.9 75.4 72.9" preserveAspectRatio="none"><text class="a">A</text></svg>
<svg x="3.525" y="-.128" width=".95" height=".128" viewBox="1 -72.9 75.4 72.9" preserveAspectRatio="none"><text class="a">A</text></svg>
<svg x="3.525" y="-.25" width=".95" height=".122" viewBox="5.2 -74.2 60.5 75.6" preserveAspectRatio="none"><text class="c">C</text></svg>
<svg x="3.525" y="-.856" width=".95" height=".606" viewBox="5.2 -74.2 70.6 75.6" preserveAspectRatio="none"><text class="g">G</text></svg>
<svg x="4.525" y="-.205" width=".95" height=".205" viewBox="1 -72.9 75.4 72.9" preserveAspectRatio="none"><text class="a">A</text></svg>
<svg x="4.525" y="-1.411" width=".95" height="1.206" viewBox="5.2 -74.2 60.5 75.6" preserveAspectRatio="none"><text class="c">C</text></svg>
<svg x="5.525" y="-.052" width=".95" height=".052" viewBox="5.2 -74.2 60.5 75.6" preserveAspectRatio="none"><text class="c">C</text></svg>
<svg x="5.525" y="-.094" width=".95" height=".042" viewBox="5.2 -74.2 70.6 75.6" preserveAspectRatio="none"><text class="g">G</text></svg>
<svg x="5.525" y="-.135" width=".95" height=".041" viewBox=".5 -72.9 67.4 72.9" preserveAspectRatio="none"><text class="t">T</text></svg>
<svg x="5.525" y="-.336" width=".95" height=".201" viewBox="1 -72.9 75.4 72.9" preserveAspectRatio="none"><text class="a">A</text></svg>
<svg x="6.525" y="-.02" width=".95" height=".02" viewBox="1 -72.9 75.4 72.9" preserveAspectRatio="none"><text class="a">A</text></svg>
<svg x="6.525" y="-.04" width=".95" height=".02" viewBox=".5 -72.9 67.4 72.9" preserveAspectRatio="none"><text class="t">T</text></svg>
<svg x="7.525" y="-.031" width=".95" height=".031" viewBox="5.2 -74.2 60.5 75.6" preserveAspectRatio="none"><text class="c">C</text></svg>
<svg x="7.525" y="-.059" width=".95" height=".028" viewBox="5.2 -74.2 70.6 75.6" preserveAspectRatio="none"><text class="g">G</text></svg>
<svg x="7.525" y="-.094" width=".95" height=".035" viewBox=".5 -72.9 67.4 72.9" preserveAspectRatio="none"><text class="t">T</text></svg>
<svg x="7.525" y="-.163" width=".95" height=".069" viewBox="1 -72.9 75.4 72.9" preserveAspectRatio="none"><text class="a">A</text></svg>
<svg x="8.525" y="-.128" width=".95" height=".128" viewBox="1 -72.9 75.4 72.9" preserveAspectRatio="none"><text class="a">A</text></svg>
<svg x="8.525" y="-.243" width=".95" height=".115" viewBox=".5 -72.9 67.4 72.9" preserveAspectRatio="none"><text class="t">T</text></svg>
<svg x="8.525" y="-.856" width=".95" height=".613" viewBox="5.2 -74.2 60.5 75.6" preserveAspectRatio="none"><text class="c">C</text></svg>
<svg x="9.525" y="-2" width=".95" height="2" viewBox="5.2 -74.2 60.5 75.6" preserveAspectRatio="none"><text class="c">C</text></svg>
<svg x="10.525" y="-.042" width=".95" height=".042" viewBox="5.2 -74.2 70.6 75.6" preserveAspectRatio="none"><text class="g">G</text></svg>
<svg x="10.525" y="-.094" width=".95" height=".052" viewBox="1 -72.9 75.4 72.9" preserveAspectRatio="none"><text class="a">A</text></svg>
<svg x="10.525" y="-.163" width=".95" height=".069" viewBox="5.2 -74.2 60.5 75.6" preserveAspectRatio="none"><text class="c">C</text></svg>
<svg x="11.525" y="-.319" width=".95" height=".319" viewBox="5.2 -74.2 70.6 75.6" preserveAspectRatio="none"><text class="g">G</text></svg>
<svg x="11.525" y="-1.14" width=".95" height=".821" viewBox="1 -72.9 75.4 72.9" preserveAspectRatio="none"><text class="a">A</text></svg>
<svg x="12.525" y="-.111" width=".95" height=".111" viewBox="5.2 -74.2 60.5 75.6" preserveAspectRatio="none"><text class="c">C</text></svg>
<svg x="12.525" y="-.25" width=".95" height=".139" viewBox="5.2 -74.2 70.6 75.6" preserveAspectRatio="none"><text class="g">G</text></svg>
<svg x="12.525" y="-.447" width=".95" height=".197" viewBox="1 -72.9 75.4 72.9" preserveAspectRatio="none"><text class="a">A</text></svg>
<svg x="13.525" y="-.319" width=".95" height=".319" viewBox="5.2 -74.2 60.5 75.6" preserveAspectRatio="none"><text class="c">C</text></svg>
<svg x="13.525" y="-1.14" width=".95" height=".821" viewBox="5.2 -74.2 70.6 75.6" preserveAspectRatio="none"><text class="g">G</text></svg>
<svg x="14.525" y="-.087" width=".95" height=".087" viewBox=".5 -72.9 67.4 72.9" preserveAspectRatio="none"><text class="t">T</text></svg>
<svg x="14.525" y="-.25" width=".95" height=".163" viewBox="5.2 -74.2 60.5 75.6" preserveAspectRatio="none"><text class="c">C</text></svg>
<svg x="14.525" y="-.624" width=".95" height=".374" viewBox="1 -72.9 75.4 72.9" preserveAspectRatio="none"><text class="a">A</text></svg>
<svg x="15.525" y="-.087" width=".95" height=".087" viewBox=".5 -72.9 67.4 72.9" preserveAspectRatio="none"><text class="t">T</text></svg>
<svg x="15.525" y="-.267" width=".95" height=".18" viewBox="5.2 -74.2 60.5 75.6" preserveAspectRatio="none"><text class="c">C</text></svg>
<svg x="15.525" y="-.624" width=".95" height=".357" viewBox="5.2 -74.2 70.6 75.6" preserveAspectRatio="none"><text class="g">G</text></svg>
<svg x="16.525" y="-.087" width=".95" height=".087" viewBox="5.2 -74.2 70.6 75.6" preserveAspectRatio="none"><text class="g">G</text></svg>
<svg x="16.525" y="-.267" width=".95" height=".18" viewBox="1 -72.9 75.4 72.9" preserveAspectRatio="none"><text class="a">A</text></svg>
<svg x="16.525" y="-.624" width=".95" height=".357" viewBox="5.2 -74.2 60.5 75.6" preserveAspectRatio="none"><text class="c">C</text></svg>
<svg x="17.525" y="-.02" width=".95" height=".02" viewBox="1 -72.9 75.4 72.9" preserveAspectRatio="none"><text class="a">A</text></svg>
<svg x="17.525" y="-.04" width=".95" height=".02" viewBox=".5 -72.9 67.4 72.9" preserveAspectRatio="none"><text class="t">T</text></svg>
<svg x="18.525" y="-.076" width=".95" height=".076" viewBox=".5 -72.9 67.4 72.9" preserveAspectRatio="none"><text class="t">T</text></svg>
<svg x="18.525" y="-.319" width=".95" height=".243" viewBox="1 -72.9 75.4 72.9" preserveAspectRatio="none"><text class="a">A</text></svg>
<svg x="18.525" y="-.551" width=".95" height=".232" viewBox="5.2 -74.2 70.6 75.6" preserveAspectRatio="none"><text class="g">G</text></svg>
<svg x="19.525" y="-.135" width=".95" height=".135" viewBox="1 -72.9 75.4 72.9" preserveAspectRatio="none"><text class="a">A</text></svg>
<svg x="19.525" y="-.25" width=".95" height=".115" viewBox=".5 -72.9 67.4 72.9" preserveAspectRatio="none"><text class="t">T</text></svg>
<svg x="19.525" y="-.447" width=".95" height=".197" viewBox="5.2 -74.2 60.5 75.6" preserveAspectRatio="none"><text class="c">C</text></svg>
<svg x="20.525" y="-.087" width=".95" height=".087" viewBox="5.2 -74.2 60.5 75.6" preserveAspectRatio="none"><text class="c">C</text></svg>
<svg x="20.525" y="-.267" width=".95" height=".18" viewBox=".5 -72.9 67.4 72.9" preserveAspectRatio="none"><text class="t">T</text></svg>
<svg x="20.525" y="-.624" width=".95" height=".357" viewBox="5.2 -74.2 70.6 75.6" preserveAspectRatio="none"><text class="g">G</text></svg>
<svg x="21.525" y="-.094" width=".95" height=".094" viewBox="1 -72.9 75.4 72.9" preserveAspectRatio="none"><text class="a">A</text></svg>
<svg x="21.525" y="-.267" width=".95" height=".173" viewBox="5.2 -74.2 70.6 75.6" preserveAspectRatio="none"><text class="g">G</text></svg>
<svg x="21.525" y="-.624" width=".95" height=".357" viewBox="5.2 -74.2 60.5 75.6" preserveAspectRatio="none"><text class="c">C</text></svg>
<svg x="22.525" y="-.128" width=".95" height=".128" viewBox="1 -72.9 75.4 72.9" preserveAspectRatio="none"><text class="a">A</text></svg>
<svg x="22.525" y="-.25" width=".95" height=".122" viewBox="5.2 -74.2 70.6 75.6" preserveAspectRatio="none"><text class="g">G</text></svg>
<svg x="22.525" y="-.856" width=".95" height=".606" viewBox="5.2 -74.2 60.5 75.6" preserveAspectRatio="none"><text class="c">C</text></svg>
<svg x="23.525" y="-.052" width=".95" height=".052" viewBox="5.2 -74.2 60.5 75.6" preserveAspectRatio="none"><text class="c">C</text></svg>
<svg x="23.525" y="-.111" width=".95" height=".059" viewBox="5.2 -74.2 70.6 75.6" preserveAspectRatio="none"><text class="g">G</text></svg>
<svg x="23.525" y="-.146" width=".95" height=".035" viewBox=".5 -72.9 67.4 72.9" preserveAspectRatio="none"><text class="t">T</text></svg>
<svg x="23.525" y="-.336" width=".95" height=".19" viewBox="1 -72.9 75.4 72.9" preserveAspectRatio="none"><text class="a">A</text></svg>
<svg x="24.525" y="-.042" width=".95" height=".042" viewBox="5.2 -74.2 70.6 75.6" preserveAspectRatio="none"><text class="g">G</text></svg>
<svg x="24.525" y="-.066" width=".95" height=".024" viewBox=".5 -72.9 67.4 72.9" preserveAspectRatio="none"><text class="t">T</text></svg>
<svg x="24.525" y="-.1" width=".95" height=".034" viewBox="1 -72.9 75.4 72.9" preserveAspectRatio="none"><text class="a">A</text></svg>
<svg x="24.525" y="-.163" width=".95" height=".063" viewBox="5.2 -74.2 60.5 75.6" preserveAspectRatio="none"><text class="c">C</text></svg>
<svg x="25.525" y="-.02" width=".95" height=".02" viewBox=".5 -72.9 67.4 72.9" preserveAspectRatio="none"><text class="t">T</text></svg>
<svg x="25.525" y="-.04" width=".95" height=".02" viewBox="5.2 -74.2 70.6 75.6" preserveAspectRatio="none"><text class="g">G</text></svg>
<svg x="25.525" y="-.05" width=".95" height=".01" viewBox="5.2 -74.2 60.5 75.6" preserveAspectRatio="none"><text class="c">C</text></svg>
<svg x="26.525" y="-.087" width=".95" height=".087" viewBox=".5 -72.9 67.4 72.9" preserveAspectRatio="none"><text class="t">T</text></svg>
<svg x="26.525" y="-.267" width=".95" height=".18" viewBox="1 -72.9 75.4 72.9" preserveAspectRatio="none"><text class="a">A</text></svg>
<svg x="26.525" y="-.624" width=".95" height=".357" viewBox="5.2 -74.2 60.5 75.6" preserveAspectRatio="none"><text class="c">C</text></svg>
<svg x="27.525" y="-.02" width=".95" height=".02" viewBox="5.2 -74.2 60.5 75.6" preserveAspectRatio="none"><text class="c">C</text></svg>
<svg x="27.525" y="-.03" width=".95" height=".01" viewBox=".5 -72.9 67.4 72.9" preserveAspectRatio="none"><text class="t">T</text></svg>
<svg x="28.525" y="-.052" width=".95" height=".052" viewBox="5.2 -74.2 60.5 75.6" preserveAspectRatio="none"><text class="c">C</text></svg>
<svg x="28.525" y="-.094" width=".95" height=".042" viewBox="1 -72.9 75.4 72.9" preserveAspectRatio="none"><text class="a">A</text></svg>
<svg x="28.525" y="-.163" width=".95" height=".069" viewBox=".5 -72.9 67.4 72.9" preserveAspectRatio="none"><text class="t">T</text></svg>
</g>
</g>

<!-- Panel 7 -->
<g transform="translate(2100 299.3)">
<text class="ti" x="0" y="38" textLength="776" lengthAdjust="spacingAndGlyphs">pattern_4, n=190; subpattern_6, ns=2</text>
<text class="yl" x="116" y="247.5">0.0</text><text class="yl" x="116" y="199.4">0.5</text><text class="yl" x="116" y="151.2">1.0</text><text class="yl" x="116" y="103.1">1.5</text><text class="yl" x="116" y="55.2">2.0</text>
<path class="tk" d="M121 243h4M121 194.9h4M121 146.7h4M121 98.6h4M121 50.7h4"/>
<path class="tk" d="M137 244.5v4m25.9-4v4m25.9-4v4m25.9-4v4m25.9-4v4m25.9-4v4m25.9-4v4m25.9-4v4m25.9-4v4m25.9-4v4m25.9-4v4m25.9-4v4m25.9-4v4m25.9-4v4m25.9-4v4m25.9-4v4m25.9-4v4m25.9-4v4m25.9-4v4m25.9-4v4m25.9-4v4m25.9-4v4m25.9-4v4m25.9-4v4m25.9-4v4m25.9-4v4m25.9-4v4m25.9-4v4m25.9-4v4m25.9-4v4"/>
<text class="xl" y="263"><tspan x="137">1</tspan><tspan x="162.9">2</tspan><tspan x="188.8">3</tspan><tspan x="214.7">4</tspan><tspan x="240.6">5</tspan><tspan x="266.5">6</tspan><tspan x="292.4">7</tspan><tspan x="318.3">8</tspan><tspan x="344.2">9</tspan><tspan x="370.1">10</tspan><tspan x="396">11</tspan><tspan x="421.9">12</tspan><tspan x="447.8">13</tspan><tspan x="473.7">14</tspan><tspan x="499.6">15</tspan><tspan x="525.5">16</tspan><tspan x="551.4">17</tspan><tspan x="577.3">18</tspan><tspan x="603.2">19</tspan><tspan x="629.1">20</tspan><tspan x="655">21</tspan><tspan x="680.9">22</tspan><tspan x="706.8">23</tspan><tspan x="732.7">24</tspan><tspan x="758.6">25</tspan><tspan x="784.5">26</tspan><tspan x="810.4">27</tspan><tspan x="836.3">28</tspan><tspan x="862.2">29</tspan><tspan x="888.1">30</tspan></text>
<g class="L" transform="translate(137 243) scale(25.9 96.15)">
<svg x="-.475" y="-2" width=".95" height="2" viewBox="1 -72.9 75.4 72.9" preserveAspectRatio="none"><text class="a">A</text></svg>
<svg x=".525" y="-2" width=".95" height="2" viewBox="5.2 -74.2 70.6 75.6" preserveAspectRatio="none"><text class="g">G</text></svg>
<svg x="1.525" y="-2" width=".95" height="2" viewBox="5.2 -74.2 70.6 75.6" preserveAspectRatio="none"><text class="g">G</text></svg>
<svg x="2.525" y="-2" width=".95" height="2" viewBox="1 -72.9 75.4 72.9" preserveAspectRatio="none"><text class="a">A</text></svg>
<svg x="3.525" y="-2" width=".95" height="2" viewBox="1 -72.9 75.4 72.9" preserveAspectRatio="none"><text class="a">A</text></svg>
<svg x="4.525" y="-2" width=".95" height="2" viewBox="5.2 -74.2 60.5 75.6" preserveAspectRatio="none"><text class="c">C</text></svg>
<svg x="5.525" y="-2" width=".95" height="2" viewBox=".5 -72.9 67.4 72.9" preserveAspectRatio="none"><text class="t">T</text></svg>
<svg x="6.525" y="-2" width=".95" height="2" viewBox="5.2 -74.2 60.5 75.6" preserveAspectRatio="none"><text class="c">C</text></svg>
<svg x="7.525" y="-2" width=".95" height="2" viewBox=".5 -72.9 67.4 72.9" preserveAspectRatio="none"><text class="t">T</text></svg>
<svg x="8.525" y="-2" width=".95" height="2" viewBox="5.2 -74.2 60.5 75.6" preserveAspectRatio="none"><text class="c">C</text></svg>
<svg x="9.525" y="-2" width=".95" height="2" viewBox="5.2 -74.2 60.5 75.6" preserveAspectRatio="none"><text class="c">C</text></svg>
<svg x="10.525" y="-2" width=".95" height="2" viewBox="1 -72.9 75.4 72.9" preserveAspectRatio="none"><text class="a">A</text></svg>
<svg x="11.525" y="-2" width=".95" height="2" viewBox="5.2 -74.2 70.6 75.6" preserveAspectRatio="none"><text class="g">G</text></svg>
<svg x="12.525" y="-2" width=".95" height="2" viewBox="5.2 -74.2 70.6 75.6" preserveAspectRatio="none"><text class="g">G</text></svg>
<svg x="13.525" y="-2" width=".95" height="2" viewBox="1 -72.9 75.4 72.9" preserveAspectRatio="none"><text class="a">A</text></svg>
<svg x="14.525" y="-2" width=".95" height="2" viewBox="5.2 -74.2 60.5 75.6" preserveAspectRatio="none"><text class="c">C</text></svg>
<svg x="15.525" y="-2" width=".95" height="2" viewBox="1 -72.9 75.4 72.9" preserveAspectRatio="none"><text class="a">A</text></svg>
<svg x="16.525" y="-2" width=".95" height="2" viewBox="5.2 -74.2 70.6 75.6" preserveAspectRatio="none"><text class="g">G</text></svg>
<svg x="17.525" y="-2" width=".95" height="2" viewBox="5.2 -74.2 60.5 75.6" preserveAspectRatio="none"><text class="c">C</text></svg>
<svg x="18.525" y="-2" width=".95" height="2" viewBox="1 -72.9 75.4 72.9" preserveAspectRatio="none"><text class="a">A</text></svg>
<svg x="19.525" y="-2" width=".95" height="2" viewBox="1 -72.9 75.4 72.9" preserveAspectRatio="none"><text class="a">A</text></svg>
<svg x="20.525" y="-2" width=".95" height="2" viewBox=".5 -72.9 67.4 72.9" preserveAspectRatio="none"><text class="t">T</text></svg>
<svg x="21.525" y="-2" width=".95" height="2" viewBox="5.2 -74.2 70.6 75.6" preserveAspectRatio="none"><text class="g">G</text></svg>
<svg x="22.525" y="-2" width=".95" height="2" viewBox="5.2 -74.2 60.5 75.6" preserveAspectRatio="none"><text class="c">C</text></svg>
<svg x="23.525" y="-2" width=".95" height="2" viewBox=".5 -72.9 67.4 72.9" preserveAspectRatio="none"><text class="t">T</text></svg>
<svg x="24.525" y="-2" width=".95" height="2" viewBox="5.2 -74.2 70.6 75.6" preserveAspectRatio="none"><text class="g">G</text></svg>
<svg x="25.525" y="-2" width=".95" height="2" viewBox="1 -72.9 75.4 72.9" preserveAspectRatio="none"><text class="a">A</text></svg>
<svg x="26.525" y="-2" width=".95" height="2" viewBox="5.2 -74.2 60.5 75.6" preserveAspectRatio="none"><text class="c">C</text></svg>
<svg x="27.525" y="-2" width=".95" height="2" viewBox="5.2 -74.2 60.5 75.6" preserveAspectRatio="none"><text class="c">C</text></svg>
<svg x="28.525" y="-2" width=".95" height="2" viewBox="1 -72.9 75.4 72.9" preserveAspectRatio="none"><text class="a">A</text></svg>
</g>
</g>
</svg>
</div></body></html>
